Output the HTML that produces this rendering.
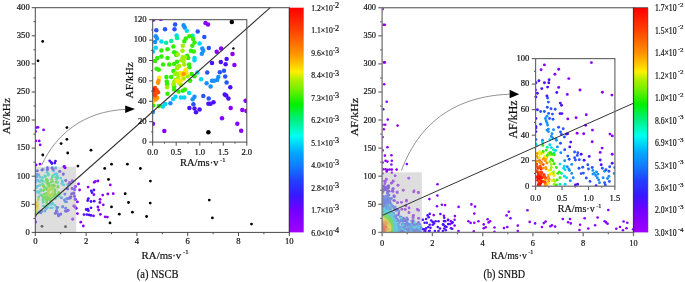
<!DOCTYPE html><html><head><meta charset="utf-8"><title>AF-RA</title><style>html,body{margin:0;padding:0;background:#fff}svg{display:block}</style></head><body><svg width="685" height="282" viewBox="0 0 685 282">
<defs><linearGradient id="rb" x1="0" y1="0" x2="0" y2="1"><stop offset="0" stop-color="#FF0000"/><stop offset="0.1" stop-color="#FF4000"/><stop offset="0.2" stop-color="#FF9000"/><stop offset="0.245" stop-color="#FFC000"/><stop offset="0.285" stop-color="#FFF000"/><stop offset="0.32" stop-color="#B0F000"/><stop offset="0.365" stop-color="#70F000"/><stop offset="0.43" stop-color="#00F000"/><stop offset="0.5" stop-color="#00F080"/><stop offset="0.57" stop-color="#00FFF0"/><stop offset="0.645" stop-color="#00A8FF"/><stop offset="0.7" stop-color="#1080FF"/><stop offset="0.77" stop-color="#2040FF"/><stop offset="0.835" stop-color="#3818FF"/><stop offset="0.9" stop-color="#7000FF"/><stop offset="1" stop-color="#A000FF"/></linearGradient>
<clipPath id="cA"><rect x="35.3" y="7.7" width="254.0" height="224.7"/></clipPath>
<clipPath id="cB"><rect x="382.1" y="7.7" width="251.4" height="224.7"/></clipPath>
<clipPath id="cIA"><rect x="152.7" y="19.7" width="94.1" height="122.4"/></clipPath>
<clipPath id="cIB"><rect x="535.6" y="58.6" width="79.3" height="127.6"/></clipPath>
</defs>
<rect width="685" height="282" fill="#fff"/>
<g clip-path="url(#cA)"><g fill="#1890FF"><circle cx="37.2" cy="170.8" r="1.4"/><circle cx="42.0" cy="170.2" r="1.4"/><circle cx="47.4" cy="167.7" r="1.4"/><circle cx="59.6" cy="171.5" r="1.4"/><circle cx="63.2" cy="174.5" r="1.4"/><circle cx="65.6" cy="180.6" r="1.4"/><circle cx="37.0" cy="174.1" r="1.4"/><circle cx="37.6" cy="175.3" r="1.4"/><circle cx="36.6" cy="177.3" r="1.4"/><circle cx="37.0" cy="180.5" r="1.4"/><circle cx="35.4" cy="182.5" r="1.4"/><circle cx="64.7" cy="194.1" r="1.4"/><circle cx="61.4" cy="197.8" r="1.4"/><circle cx="38.6" cy="212.5" r="1.4"/><circle cx="46.3" cy="208.6" r="1.4"/><circle cx="42.1" cy="211.4" r="1.4"/><circle cx="44.9" cy="211.0" r="1.4"/><circle cx="57.9" cy="207.4" r="1.4"/><circle cx="56.9" cy="208.8" r="1.4"/><circle cx="57.2" cy="211.6" r="1.4"/><circle cx="55.1" cy="213.6" r="1.4"/><circle cx="35.4" cy="186.1" r="1.4"/><circle cx="67.7" cy="184.5" r="1.4"/><circle cx="39.1" cy="211.8" r="1.4"/><circle cx="43.2" cy="169.2" r="1.4"/><circle cx="55.8" cy="168.0" r="1.4"/><circle cx="38.7" cy="174.8" r="1.4"/><circle cx="61.4" cy="197.8" r="1.4"/><circle cx="66.5" cy="198.6" r="1.4"/><circle cx="69.4" cy="197.8" r="1.4"/><circle cx="70.9" cy="197.1" r="1.4"/><circle cx="65.0" cy="201.5" r="1.4"/></g><g fill="#00D8F0"><circle cx="47.1" cy="170.2" r="1.4"/><circle cx="52.0" cy="168.0" r="1.4"/><circle cx="52.6" cy="169.2" r="1.4"/><circle cx="53.7" cy="171.1" r="1.4"/><circle cx="40.0" cy="177.0" r="1.4"/><circle cx="42.5" cy="177.7" r="1.4"/><circle cx="40.0" cy="181.9" r="1.4"/><circle cx="55.1" cy="174.1" r="1.4"/><circle cx="56.9" cy="173.8" r="1.4"/><circle cx="57.1" cy="175.7" r="1.4"/><circle cx="60.6" cy="178.1" r="1.4"/><circle cx="62.1" cy="180.9" r="1.4"/><circle cx="62.6" cy="182.1" r="1.4"/><circle cx="61.8" cy="183.7" r="1.4"/><circle cx="37.8" cy="186.1" r="1.4"/><circle cx="36.6" cy="187.7" r="1.4"/><circle cx="37.4" cy="192.0" r="1.4"/><circle cx="38.6" cy="192.5" r="1.4"/><circle cx="57.9" cy="196.1" r="1.4"/><circle cx="38.7" cy="197.0" r="1.4"/><circle cx="52.8" cy="203.4" r="1.4"/><circle cx="49.2" cy="204.6" r="1.4"/><circle cx="51.6" cy="204.2" r="1.4"/><circle cx="55.0" cy="205.4" r="1.4"/><circle cx="47.6" cy="207.4" r="1.4"/><circle cx="50.6" cy="207.8" r="1.4"/><circle cx="52.4" cy="207.8" r="1.4"/><circle cx="58.9" cy="196.2" r="1.4"/><circle cx="37.8" cy="191.7" r="1.4"/><circle cx="38.3" cy="180.5" r="1.4"/><circle cx="63.8" cy="185.0" r="1.4"/><circle cx="41.5" cy="180.1" r="1.4"/><circle cx="53.3" cy="167.9" r="1.4"/><circle cx="47.1" cy="172.3" r="1.4"/><circle cx="51.1" cy="203.8" r="1.4"/></g><g fill="#2855FF"><circle cx="63.8" cy="166.8" r="1.4"/><circle cx="65.1" cy="167.6" r="1.4"/><circle cx="72.2" cy="180.8" r="1.4"/><circle cx="69.9" cy="182.7" r="1.4"/><circle cx="67.3" cy="188.9" r="1.4"/><circle cx="68.5" cy="198.6" r="1.4"/><circle cx="67.3" cy="198.6" r="1.4"/><circle cx="64.4" cy="200.0" r="1.4"/><circle cx="66.5" cy="201.8" r="1.4"/><circle cx="40.8" cy="212.9" r="1.4"/><circle cx="62.6" cy="207.0" r="1.4"/><circle cx="65.5" cy="208.3" r="1.4"/><circle cx="65.4" cy="211.2" r="1.4"/><circle cx="57.9" cy="213.8" r="1.4"/><circle cx="60.6" cy="214.4" r="1.4"/><circle cx="58.7" cy="216.0" r="1.4"/><circle cx="72.3" cy="193.7" r="1.4"/><circle cx="73.8" cy="193.0" r="1.4"/><circle cx="65.0" cy="194.1" r="1.4"/><circle cx="57.0" cy="207.3" r="1.4"/><circle cx="62.8" cy="206.6" r="1.4"/><circle cx="65.8" cy="208.1" r="1.4"/></g><g fill="#00F0A0"><circle cx="45.3" cy="176.7" r="1.4"/><circle cx="48.2" cy="173.7" r="1.4"/><circle cx="48.4" cy="175.1" r="1.4"/><circle cx="43.3" cy="181.3" r="1.4"/><circle cx="52.4" cy="176.9" r="1.4"/><circle cx="53.2" cy="175.3" r="1.4"/><circle cx="57.9" cy="177.5" r="1.4"/><circle cx="56.7" cy="179.3" r="1.4"/><circle cx="57.5" cy="182.5" r="1.4"/><circle cx="40.0" cy="185.3" r="1.4"/><circle cx="40.9" cy="189.7" r="1.4"/><circle cx="59.5" cy="194.1" r="1.4"/><circle cx="42.9" cy="199.0" r="1.4"/><circle cx="43.1" cy="200.6" r="1.4"/><circle cx="55.5" cy="198.6" r="1.4"/><circle cx="43.3" cy="205.8" r="1.4"/><circle cx="43.1" cy="202.2" r="1.4"/><circle cx="55.8" cy="177.2" r="1.4"/><circle cx="41.6" cy="195.1" r="1.4"/><circle cx="45.3" cy="176.2" r="1.4"/><circle cx="42.4" cy="184.1" r="1.4"/><circle cx="40.4" cy="191.2" r="1.4"/><circle cx="44.9" cy="175.8" r="1.4"/><circle cx="40.7" cy="194.9" r="1.4"/><circle cx="42.3" cy="180.6" r="1.4"/><circle cx="57.0" cy="178.8" r="1.4"/><circle cx="45.5" cy="206.4" r="1.4"/></g><g fill="#30F000"><circle cx="46.5" cy="179.7" r="1.4"/><circle cx="46.8" cy="182.9" r="1.4"/><circle cx="48.0" cy="183.5" r="1.4"/><circle cx="51.3" cy="182.1" r="1.4"/><circle cx="51.6" cy="179.3" r="1.4"/><circle cx="55.9" cy="182.1" r="1.4"/><circle cx="48.0" cy="184.5" r="1.4"/><circle cx="57.9" cy="186.1" r="1.4"/><circle cx="57.9" cy="187.3" r="1.4"/><circle cx="43.3" cy="186.1" r="1.4"/><circle cx="44.2" cy="189.7" r="1.4"/><circle cx="46.8" cy="189.3" r="1.4"/><circle cx="51.6" cy="185.7" r="1.4"/><circle cx="53.9" cy="184.9" r="1.4"/><circle cx="54.5" cy="186.1" r="1.4"/><circle cx="55.0" cy="189.7" r="1.4"/><circle cx="55.1" cy="191.2" r="1.4"/><circle cx="46.5" cy="193.2" r="1.4"/><circle cx="53.5" cy="194.4" r="1.4"/><circle cx="54.2" cy="196.1" r="1.4"/><circle cx="56.3" cy="194.9" r="1.4"/><circle cx="42.7" cy="196.6" r="1.4"/><circle cx="45.3" cy="196.6" r="1.4"/><circle cx="46.8" cy="199.4" r="1.4"/><circle cx="48.4" cy="198.6" r="1.4"/><circle cx="50.4" cy="198.6" r="1.4"/><circle cx="50.6" cy="201.0" r="1.4"/><circle cx="46.5" cy="200.6" r="1.4"/><circle cx="46.8" cy="203.4" r="1.4"/><circle cx="46.8" cy="201.8" r="1.4"/><circle cx="48.8" cy="184.1" r="1.4"/><circle cx="52.8" cy="185.7" r="1.4"/><circle cx="47.2" cy="194.9" r="1.4"/><circle cx="48.8" cy="197.4" r="1.4"/><circle cx="47.6" cy="198.2" r="1.4"/><circle cx="49.6" cy="199.8" r="1.4"/><circle cx="52.0" cy="197.4" r="1.4"/><circle cx="49.2" cy="199.0" r="1.4"/><circle cx="44.1" cy="194.1" r="1.4"/><circle cx="48.6" cy="187.6" r="1.4"/><circle cx="46.9" cy="181.3" r="1.4"/><circle cx="43.8" cy="185.7" r="1.4"/><circle cx="52.4" cy="181.4" r="1.4"/><circle cx="49.1" cy="186.2" r="1.4"/><circle cx="48.0" cy="197.3" r="1.4"/><circle cx="43.4" cy="190.6" r="1.4"/><circle cx="44.1" cy="186.9" r="1.4"/><circle cx="52.7" cy="187.6" r="1.4"/><circle cx="55.0" cy="194.0" r="1.4"/><circle cx="53.8" cy="193.6" r="1.4"/><circle cx="46.7" cy="179.4" r="1.4"/><circle cx="47.5" cy="180.4" r="1.4"/><circle cx="54.5" cy="192.3" r="1.4"/><circle cx="44.6" cy="198.5" r="1.4"/><circle cx="49.1" cy="183.7" r="1.4"/><circle cx="58.7" cy="192.3" r="1.4"/><circle cx="46.5" cy="187.9" r="1.4"/><circle cx="58.5" cy="193.6" r="1.4"/></g><g fill="#8800FF"><circle cx="75.2" cy="186.7" r="1.4"/><circle cx="74.7" cy="189.5" r="1.4"/><circle cx="74.4" cy="196.3" r="1.4"/><circle cx="75.2" cy="199.5" r="1.4"/><circle cx="74.2" cy="206.2" r="1.4"/><circle cx="75.0" cy="206.7" r="1.4"/><circle cx="76.2" cy="208.4" r="1.4"/><circle cx="72.7" cy="219.3" r="1.4"/><circle cx="35.4" cy="222.3" r="1.4"/><circle cx="69.4" cy="182.7" r="1.4"/><circle cx="72.3" cy="181.0" r="1.4"/><circle cx="75.3" cy="186.4" r="1.4"/><circle cx="73.8" cy="205.9" r="1.4"/><circle cx="76.0" cy="208.1" r="1.4"/><circle cx="72.8" cy="219.0" r="1.4"/><circle cx="35.8" cy="221.9" r="1.4"/></g><g fill="#4A10FF"><circle cx="72.1" cy="188.4" r="1.4"/><circle cx="71.5" cy="193.9" r="1.4"/><circle cx="73.8" cy="193.1" r="1.4"/><circle cx="70.7" cy="196.6" r="1.4"/><circle cx="70.1" cy="198.2" r="1.4"/><circle cx="35.4" cy="215.8" r="1.4"/><circle cx="68.1" cy="210.4" r="1.4"/><circle cx="66.5" cy="211.2" r="1.4"/><circle cx="37.3" cy="170.8" r="1.4"/><circle cx="42.0" cy="169.9" r="1.4"/><circle cx="47.5" cy="168.1" r="1.4"/><circle cx="47.5" cy="169.6" r="1.4"/><circle cx="51.9" cy="168.1" r="1.4"/><circle cx="53.4" cy="169.6" r="1.4"/><circle cx="59.9" cy="171.4" r="1.4"/><circle cx="63.3" cy="174.0" r="1.4"/><circle cx="65.8" cy="180.5" r="1.4"/><circle cx="72.3" cy="188.6" r="1.4"/><circle cx="74.5" cy="189.3" r="1.4"/><circle cx="67.7" cy="188.9" r="1.4"/><circle cx="56.3" cy="211.0" r="1.4"/><circle cx="55.5" cy="213.2" r="1.4"/><circle cx="58.5" cy="215.4" r="1.4"/><circle cx="60.7" cy="213.9" r="1.4"/><circle cx="65.8" cy="211.0" r="1.4"/><circle cx="68.0" cy="210.2" r="1.4"/><circle cx="73.8" cy="193.5" r="1.4"/><circle cx="74.5" cy="196.4" r="1.4"/><circle cx="75.3" cy="199.3" r="1.4"/></g><g fill="#A0F000"><circle cx="48.4" cy="188.1" r="1.4"/><circle cx="50.8" cy="187.3" r="1.4"/><circle cx="52.4" cy="189.7" r="1.4"/><circle cx="48.8" cy="190.9" r="1.4"/><circle cx="48.0" cy="194.5" r="1.4"/><circle cx="49.2" cy="195.5" r="1.4"/><circle cx="50.8" cy="194.4" r="1.4"/><circle cx="52.0" cy="194.9" r="1.4"/><circle cx="53.2" cy="192.5" r="1.4"/><circle cx="38.4" cy="198.7" r="1.4"/><circle cx="38.2" cy="199.8" r="1.4"/><circle cx="35.6" cy="212.2" r="1.4"/><circle cx="52.0" cy="187.7" r="1.4"/><circle cx="49.6" cy="190.5" r="1.4"/><circle cx="48.4" cy="191.7" r="1.4"/><circle cx="49.6" cy="194.5" r="1.4"/><circle cx="52.8" cy="193.3" r="1.4"/><circle cx="50.8" cy="195.7" r="1.4"/><circle cx="50.7" cy="189.7" r="1.4"/><circle cx="50.1" cy="196.8" r="1.4"/><circle cx="36.1" cy="211.2" r="1.4"/></g><g fill="#FF9800"><circle cx="36.6" cy="202.6" r="1.4"/><circle cx="35.4" cy="203.4" r="1.4"/><circle cx="36.0" cy="205.0" r="1.4"/><circle cx="36.6" cy="206.6" r="1.4"/><circle cx="37.0" cy="205.4" r="1.4"/><circle cx="35.4" cy="205.8" r="1.4"/><circle cx="36.2" cy="207.8" r="1.4"/></g><g fill="#FFE800"><circle cx="37.4" cy="203.8" r="1.4"/><circle cx="38.2" cy="205.0" r="1.4"/><circle cx="37.8" cy="208.2" r="1.4"/><circle cx="37.0" cy="209.0" r="1.4"/><circle cx="35.4" cy="210.2" r="1.4"/></g><g fill="#000000"><circle cx="42.0" cy="226.3" r="1.4"/><circle cx="65.5" cy="226.7" r="1.4"/></g></g>
<rect x="35.3" y="166.7" width="40.9" height="65.7" fill="#c0c0c0" fill-opacity="0.52"/>
<g clip-path="url(#cA)"><g fill="#000000"><circle cx="42.8" cy="155.0" r="1.4"/><circle cx="77.9" cy="166.1" r="1.4"/><circle cx="104.7" cy="168.4" r="1.4"/><circle cx="111.5" cy="164.2" r="1.4"/><circle cx="127.4" cy="164.2" r="1.4"/><circle cx="108.5" cy="179.4" r="1.4"/><circle cx="125.2" cy="193.7" r="1.4"/><circle cx="128.5" cy="202.5" r="1.4"/><circle cx="111.5" cy="206.9" r="1.4"/><circle cx="119.3" cy="214.2" r="1.4"/><circle cx="110.0" cy="222.9" r="1.4"/><circle cx="66.9" cy="127.6" r="1.4"/><circle cx="66.9" cy="139.3" r="1.4"/><circle cx="61.1" cy="143.6" r="1.4"/><circle cx="67.7" cy="153.0" r="1.4"/><circle cx="91.0" cy="150.2" r="1.4"/><circle cx="42.7" cy="41.4" r="1.4"/><circle cx="38.0" cy="60.8" r="1.4"/><circle cx="140.4" cy="168.5" r="1.4"/><circle cx="150.4" cy="181.1" r="1.4"/><circle cx="150.2" cy="203.1" r="1.4"/><circle cx="132.4" cy="212.2" r="1.4"/><circle cx="146.6" cy="216.5" r="1.4"/><circle cx="209.3" cy="200.1" r="1.4"/><circle cx="212.4" cy="217.9" r="1.4"/><circle cx="251.5" cy="224.1" r="1.4"/></g><g fill="#8800FF"><circle cx="36.1" cy="164.9" r="1.4"/><circle cx="39.9" cy="164.1" r="1.4"/><circle cx="64.3" cy="166.4" r="1.4"/><circle cx="65.0" cy="167.8" r="1.4"/><circle cx="78.5" cy="183.9" r="1.4"/><circle cx="79.6" cy="190.0" r="1.4"/><circle cx="88.1" cy="187.1" r="1.4"/><circle cx="94.2" cy="182.3" r="1.4"/><circle cx="95.4" cy="181.3" r="1.4"/><circle cx="97.9" cy="181.0" r="1.4"/><circle cx="110.3" cy="184.9" r="1.4"/><circle cx="93.9" cy="194.7" r="1.4"/><circle cx="102.7" cy="195.1" r="1.4"/><circle cx="107.8" cy="194.0" r="1.4"/><circle cx="113.2" cy="193.7" r="1.4"/><circle cx="77.4" cy="201.9" r="1.4"/><circle cx="100.1" cy="199.3" r="1.4"/><circle cx="99.8" cy="202.5" r="1.4"/><circle cx="103.3" cy="204.8" r="1.4"/><circle cx="97.9" cy="207.0" r="1.4"/><circle cx="98.6" cy="210.0" r="1.4"/><circle cx="77.4" cy="213.6" r="1.4"/><circle cx="93.5" cy="215.8" r="1.4"/><circle cx="100.4" cy="214.3" r="1.4"/><circle cx="105.2" cy="216.8" r="1.4"/><circle cx="107.4" cy="217.1" r="1.4"/><circle cx="80.8" cy="222.2" r="1.4"/><circle cx="83.3" cy="226.0" r="1.4"/><circle cx="38.0" cy="127.3" r="1.4"/><circle cx="36.1" cy="127.6" r="1.4"/><circle cx="35.5" cy="131.4" r="1.4"/><circle cx="43.6" cy="129.9" r="1.4"/><circle cx="35.8" cy="140.9" r="1.4"/><circle cx="39.2" cy="140.9" r="1.4"/><circle cx="40.2" cy="144.8" r="1.4"/></g><g fill="#4A10FF"><circle cx="49.7" cy="160.8" r="1.4"/><circle cx="51.2" cy="162.3" r="1.4"/><circle cx="51.9" cy="163.5" r="1.4"/><circle cx="54.8" cy="163.0" r="1.4"/><circle cx="55.5" cy="161.1" r="1.4"/><circle cx="91.3" cy="190.8" r="1.4"/><circle cx="93.9" cy="190.0" r="1.4"/><circle cx="92.0" cy="192.7" r="1.4"/><circle cx="88.4" cy="198.6" r="1.4"/><circle cx="87.7" cy="200.5" r="1.4"/><circle cx="91.0" cy="201.5" r="1.4"/><circle cx="94.2" cy="201.2" r="1.4"/><circle cx="91.0" cy="207.8" r="1.4"/><circle cx="86.2" cy="209.5" r="1.4"/><circle cx="87.7" cy="209.2" r="1.4"/><circle cx="88.4" cy="210.7" r="1.4"/><circle cx="84.0" cy="214.6" r="1.4"/><circle cx="86.9" cy="214.6" r="1.4"/><circle cx="89.1" cy="214.9" r="1.4"/><circle cx="91.0" cy="215.4" r="1.4"/></g></g>
<g clip-path="url(#cB)"><g fill="#FF1000"><circle cx="383.2" cy="228.1" r="1.3"/><circle cx="383.1" cy="229.7" r="1.3"/><circle cx="383.8" cy="230.8" r="1.3"/><circle cx="384.3" cy="228.2" r="1.3"/><circle cx="383.4" cy="232.0" r="1.3"/><circle cx="383.4" cy="229.1" r="1.3"/><circle cx="383.6" cy="231.5" r="1.3"/><circle cx="384.8" cy="230.3" r="1.3"/><circle cx="385.6" cy="230.3" r="1.3"/><circle cx="384.2" cy="231.9" r="1.3"/><circle cx="383.2" cy="228.7" r="1.3"/><circle cx="384.3" cy="227.8" r="1.3"/><circle cx="384.5" cy="231.1" r="1.3"/><circle cx="383.5" cy="226.9" r="1.3"/><circle cx="384.9" cy="228.9" r="1.3"/><circle cx="383.0" cy="226.1" r="1.3"/><circle cx="383.7" cy="227.4" r="1.3"/><circle cx="382.6" cy="228.4" r="1.3"/><circle cx="384.0" cy="229.0" r="1.3"/><circle cx="385.0" cy="226.4" r="1.3"/><circle cx="386.1" cy="227.4" r="1.3"/><circle cx="384.7" cy="224.8" r="1.3"/><circle cx="383.3" cy="224.5" r="1.3"/><circle cx="385.4" cy="228.4" r="1.3"/><circle cx="384.3" cy="230.0" r="1.3"/><circle cx="388.1" cy="231.7" r="1.3"/><circle cx="384.3" cy="224.2" r="1.3"/><circle cx="388.0" cy="232.0" r="1.3"/><circle cx="387.4" cy="228.3" r="1.3"/><circle cx="385.5" cy="225.1" r="1.3"/><circle cx="385.9" cy="225.6" r="1.3"/><circle cx="383.4" cy="223.8" r="1.3"/><circle cx="387.9" cy="230.6" r="1.3"/><circle cx="383.7" cy="224.0" r="1.3"/><circle cx="383.5" cy="224.0" r="1.3"/><circle cx="383.5" cy="223.9" r="1.3"/><circle cx="385.0" cy="224.8" r="1.3"/><circle cx="385.3" cy="225.3" r="1.3"/><circle cx="386.8" cy="227.5" r="1.3"/><circle cx="385.3" cy="225.3" r="1.3"/><circle cx="387.6" cy="230.0" r="1.3"/><circle cx="387.7" cy="230.5" r="1.3"/><circle cx="386.4" cy="226.9" r="1.3"/><circle cx="384.3" cy="224.6" r="1.3"/><circle cx="382.2" cy="224.0" r="1.3"/><circle cx="383.1" cy="224.1" r="1.3"/><circle cx="385.0" cy="225.3" r="1.3"/><circle cx="382.4" cy="224.2" r="1.3"/><circle cx="386.4" cy="227.3" r="1.3"/><circle cx="385.8" cy="226.4" r="1.3"/><circle cx="385.6" cy="226.2" r="1.3"/><circle cx="386.0" cy="226.8" r="1.3"/><circle cx="387.5" cy="232.2" r="1.3"/><circle cx="385.8" cy="226.5" r="1.3"/><circle cx="387.1" cy="229.4" r="1.3"/><circle cx="386.7" cy="228.2" r="1.3"/><circle cx="384.2" cy="225.0" r="1.3"/><circle cx="383.2" cy="224.6" r="1.3"/><circle cx="385.9" cy="226.9" r="1.3"/><circle cx="387.3" cy="231.3" r="1.3"/><circle cx="383.1" cy="224.8" r="1.3"/><circle cx="386.3" cy="227.8" r="1.3"/><circle cx="385.4" cy="226.4" r="1.3"/><circle cx="382.3" cy="224.8" r="1.3"/><circle cx="382.7" cy="224.9" r="1.3"/><circle cx="382.4" cy="224.9" r="1.3"/><circle cx="386.4" cy="228.6" r="1.3"/><circle cx="383.8" cy="225.4" r="1.3"/><circle cx="387.1" cy="231.9" r="1.3"/><circle cx="384.0" cy="225.6" r="1.3"/><circle cx="387.0" cy="232.0" r="1.3"/><circle cx="384.8" cy="226.2" r="1.3"/><circle cx="385.0" cy="226.5" r="1.3"/><circle cx="385.7" cy="227.5" r="1.3"/><circle cx="385.7" cy="227.6" r="1.3"/><circle cx="385.7" cy="227.6" r="1.3"/><circle cx="385.0" cy="226.8" r="1.3"/><circle cx="384.2" cy="226.0" r="1.3"/><circle cx="386.7" cy="230.7" r="1.3"/><circle cx="386.7" cy="230.5" r="1.3"/><circle cx="384.0" cy="225.9" r="1.3"/><circle cx="386.0" cy="228.4" r="1.3"/><circle cx="384.2" cy="226.1" r="1.3"/><circle cx="386.6" cy="230.7" r="1.3"/><circle cx="385.3" cy="227.4" r="1.3"/><circle cx="383.7" cy="226.0" r="1.3"/><circle cx="386.7" cy="232.2" r="1.3"/><circle cx="386.7" cy="232.3" r="1.3"/><circle cx="383.9" cy="226.2" r="1.3"/><circle cx="386.0" cy="229.2" r="1.3"/><circle cx="382.3" cy="225.8" r="1.3"/><circle cx="386.0" cy="229.3" r="1.3"/><circle cx="386.5" cy="232.2" r="1.3"/><circle cx="383.9" cy="226.5" r="1.3"/><circle cx="386.3" cy="230.8" r="1.3"/><circle cx="386.2" cy="230.6" r="1.3"/><circle cx="386.1" cy="229.9" r="1.3"/><circle cx="382.3" cy="226.0" r="1.3"/><circle cx="384.3" cy="227.0" r="1.3"/><circle cx="384.3" cy="227.1" r="1.3"/><circle cx="385.6" cy="229.0" r="1.3"/><circle cx="383.6" cy="226.7" r="1.3"/><circle cx="382.5" cy="226.3" r="1.3"/><circle cx="386.0" cy="230.8" r="1.3"/><circle cx="384.2" cy="227.3" r="1.3"/><circle cx="386.1" cy="231.5" r="1.3"/><circle cx="385.1" cy="228.7" r="1.3"/><circle cx="383.2" cy="226.9" r="1.3"/><circle cx="385.9" cy="231.1" r="1.3"/><circle cx="385.6" cy="230.1" r="1.3"/><circle cx="385.8" cy="231.1" r="1.3"/><circle cx="383.9" cy="227.5" r="1.3"/><circle cx="385.6" cy="230.6" r="1.3"/><circle cx="383.9" cy="227.6" r="1.3"/><circle cx="382.6" cy="227.2" r="1.3"/><circle cx="385.5" cy="230.7" r="1.3"/><circle cx="385.5" cy="230.8" r="1.3"/><circle cx="385.1" cy="230.6" r="1.3"/><circle cx="385.3" cy="231.5" r="1.3"/><circle cx="384.6" cy="229.4" r="1.3"/><circle cx="385.0" cy="230.4" r="1.3"/><circle cx="384.0" cy="228.6" r="1.3"/><circle cx="382.4" cy="227.7" r="1.3"/><circle cx="384.0" cy="228.7" r="1.3"/><circle cx="385.2" cy="232.1" r="1.3"/><circle cx="382.7" cy="227.9" r="1.3"/><circle cx="384.3" cy="229.4" r="1.3"/><circle cx="383.9" cy="228.9" r="1.3"/><circle cx="382.1" cy="228.3" r="1.3"/><circle cx="384.7" cy="231.3" r="1.3"/><circle cx="383.5" cy="229.4" r="1.3"/><circle cx="384.5" cy="231.5" r="1.3"/><circle cx="382.2" cy="228.9" r="1.3"/><circle cx="383.5" cy="229.5" r="1.3"/><circle cx="384.5" cy="232.2" r="1.3"/><circle cx="384.4" cy="232.1" r="1.3"/><circle cx="384.3" cy="232.0" r="1.3"/><circle cx="382.3" cy="229.2" r="1.3"/><circle cx="382.3" cy="229.3" r="1.3"/><circle cx="382.2" cy="229.3" r="1.3"/><circle cx="384.0" cy="231.8" r="1.3"/><circle cx="384.1" cy="232.2" r="1.3"/><circle cx="382.1" cy="229.5" r="1.3"/><circle cx="383.5" cy="230.5" r="1.3"/><circle cx="383.5" cy="230.5" r="1.3"/><circle cx="383.5" cy="230.6" r="1.3"/><circle cx="383.4" cy="230.7" r="1.3"/><circle cx="383.1" cy="230.3" r="1.3"/><circle cx="383.3" cy="230.8" r="1.3"/><circle cx="382.9" cy="230.4" r="1.3"/><circle cx="383.5" cy="231.5" r="1.3"/><circle cx="382.9" cy="231.0" r="1.3"/><circle cx="383.0" cy="231.1" r="1.3"/><circle cx="382.4" cy="231.7" r="1.3"/><circle cx="382.3" cy="231.8" r="1.3"/></g><g fill="#FF4800"><circle cx="386.1" cy="230.6" r="1.3"/><circle cx="386.9" cy="228.8" r="1.3"/><circle cx="386.5" cy="230.3" r="1.3"/><circle cx="385.9" cy="228.5" r="1.3"/><circle cx="384.3" cy="227.0" r="1.3"/><circle cx="384.8" cy="226.2" r="1.3"/><circle cx="384.0" cy="224.3" r="1.3"/><circle cx="382.6" cy="225.5" r="1.3"/><circle cx="385.0" cy="224.4" r="1.3"/><circle cx="384.7" cy="227.2" r="1.3"/><circle cx="386.2" cy="227.9" r="1.3"/><circle cx="383.6" cy="226.2" r="1.3"/><circle cx="386.8" cy="231.1" r="1.3"/><circle cx="386.2" cy="227.9" r="1.3"/><circle cx="382.9" cy="223.8" r="1.3"/><circle cx="382.6" cy="222.7" r="1.3"/><circle cx="386.6" cy="232.2" r="1.3"/><circle cx="384.0" cy="221.2" r="1.3"/><circle cx="384.7" cy="221.8" r="1.3"/><circle cx="386.8" cy="228.7" r="1.3"/><circle cx="384.3" cy="223.5" r="1.3"/><circle cx="385.7" cy="222.9" r="1.3"/><circle cx="385.7" cy="230.3" r="1.3"/><circle cx="383.7" cy="230.3" r="1.3"/><circle cx="384.6" cy="220.2" r="1.3"/><circle cx="387.6" cy="222.7" r="1.3"/><circle cx="382.3" cy="219.8" r="1.3"/><circle cx="389.8" cy="227.3" r="1.3"/><circle cx="390.1" cy="228.6" r="1.3"/><circle cx="382.9" cy="220.0" r="1.3"/><circle cx="389.7" cy="227.4" r="1.3"/><circle cx="388.6" cy="224.7" r="1.3"/><circle cx="382.5" cy="220.1" r="1.3"/><circle cx="388.7" cy="224.9" r="1.3"/><circle cx="388.2" cy="224.2" r="1.3"/><circle cx="387.2" cy="222.9" r="1.3"/><circle cx="383.9" cy="220.6" r="1.3"/><circle cx="387.6" cy="223.4" r="1.3"/><circle cx="389.3" cy="226.8" r="1.3"/><circle cx="389.9" cy="229.4" r="1.3"/><circle cx="382.9" cy="220.5" r="1.3"/><circle cx="387.2" cy="223.1" r="1.3"/><circle cx="383.9" cy="220.8" r="1.3"/><circle cx="387.4" cy="223.5" r="1.3"/><circle cx="386.8" cy="222.8" r="1.3"/><circle cx="390.1" cy="231.7" r="1.3"/><circle cx="385.6" cy="221.8" r="1.3"/><circle cx="390.0" cy="232.0" r="1.3"/><circle cx="387.0" cy="223.3" r="1.3"/><circle cx="385.3" cy="221.6" r="1.3"/><circle cx="386.6" cy="222.8" r="1.3"/><circle cx="382.8" cy="220.8" r="1.3"/><circle cx="389.9" cy="231.5" r="1.3"/><circle cx="383.3" cy="220.9" r="1.3"/><circle cx="385.1" cy="221.7" r="1.3"/><circle cx="389.4" cy="228.5" r="1.3"/><circle cx="388.7" cy="226.7" r="1.3"/><circle cx="387.1" cy="223.8" r="1.3"/><circle cx="383.1" cy="221.2" r="1.3"/><circle cx="383.5" cy="221.3" r="1.3"/><circle cx="387.5" cy="224.4" r="1.3"/><circle cx="388.2" cy="225.8" r="1.3"/><circle cx="386.5" cy="223.3" r="1.3"/><circle cx="385.3" cy="222.3" r="1.3"/><circle cx="387.1" cy="224.1" r="1.3"/><circle cx="383.3" cy="221.4" r="1.3"/><circle cx="388.1" cy="225.9" r="1.3"/><circle cx="389.0" cy="228.4" r="1.3"/><circle cx="389.0" cy="228.4" r="1.3"/><circle cx="387.9" cy="225.6" r="1.3"/><circle cx="387.1" cy="224.4" r="1.3"/><circle cx="386.2" cy="223.5" r="1.3"/><circle cx="386.8" cy="224.2" r="1.3"/><circle cx="383.4" cy="221.8" r="1.3"/><circle cx="385.5" cy="223.0" r="1.3"/><circle cx="384.4" cy="222.4" r="1.3"/><circle cx="389.1" cy="231.4" r="1.3"/><circle cx="387.6" cy="225.9" r="1.3"/><circle cx="389.0" cy="230.2" r="1.3"/><circle cx="384.8" cy="222.8" r="1.3"/><circle cx="383.3" cy="222.1" r="1.3"/><circle cx="387.5" cy="225.8" r="1.3"/><circle cx="385.6" cy="223.4" r="1.3"/><circle cx="388.4" cy="228.3" r="1.3"/><circle cx="385.3" cy="223.3" r="1.3"/><circle cx="388.1" cy="227.4" r="1.3"/><circle cx="386.3" cy="224.4" r="1.3"/><circle cx="386.5" cy="224.8" r="1.3"/><circle cx="382.2" cy="222.4" r="1.3"/><circle cx="382.2" cy="222.4" r="1.3"/><circle cx="388.0" cy="227.8" r="1.3"/><circle cx="388.7" cy="231.2" r="1.3"/><circle cx="388.1" cy="228.0" r="1.3"/><circle cx="387.1" cy="225.9" r="1.3"/><circle cx="388.7" cy="232.1" r="1.3"/><circle cx="385.6" cy="224.3" r="1.3"/><circle cx="386.4" cy="225.2" r="1.3"/><circle cx="385.0" cy="223.8" r="1.3"/><circle cx="387.9" cy="228.2" r="1.3"/><circle cx="387.9" cy="228.4" r="1.3"/><circle cx="386.5" cy="225.5" r="1.3"/><circle cx="388.5" cy="232.2" r="1.3"/><circle cx="386.1" cy="225.1" r="1.3"/><circle cx="386.8" cy="226.2" r="1.3"/><circle cx="384.2" cy="223.5" r="1.3"/><circle cx="384.2" cy="223.6" r="1.3"/><circle cx="387.4" cy="227.7" r="1.3"/><circle cx="387.6" cy="228.2" r="1.3"/><circle cx="384.7" cy="224.1" r="1.3"/><circle cx="386.2" cy="225.5" r="1.3"/><circle cx="385.2" cy="224.5" r="1.3"/></g><g fill="#A0F000"><circle cx="389.2" cy="225.2" r="1.3"/><circle cx="384.9" cy="217.9" r="1.3"/><circle cx="390.7" cy="229.7" r="1.3"/><circle cx="388.8" cy="221.6" r="1.3"/><circle cx="390.5" cy="227.1" r="1.3"/><circle cx="388.2" cy="218.0" r="1.3"/><circle cx="389.6" cy="222.8" r="1.3"/><circle cx="389.6" cy="224.2" r="1.3"/><circle cx="390.6" cy="226.1" r="1.3"/><circle cx="391.3" cy="230.3" r="1.3"/><circle cx="390.9" cy="231.6" r="1.3"/><circle cx="388.9" cy="218.7" r="1.3"/><circle cx="385.5" cy="216.1" r="1.3"/><circle cx="393.3" cy="228.7" r="1.3"/><circle cx="388.2" cy="218.0" r="1.3"/><circle cx="393.5" cy="232.0" r="1.3"/><circle cx="384.7" cy="215.9" r="1.3"/><circle cx="387.5" cy="217.6" r="1.3"/><circle cx="392.3" cy="225.4" r="1.3"/><circle cx="393.1" cy="228.8" r="1.3"/><circle cx="392.2" cy="225.5" r="1.3"/><circle cx="389.2" cy="219.8" r="1.3"/><circle cx="392.9" cy="229.6" r="1.3"/><circle cx="388.2" cy="218.8" r="1.3"/><circle cx="382.3" cy="216.2" r="1.3"/><circle cx="392.5" cy="227.8" r="1.3"/><circle cx="393.0" cy="232.1" r="1.3"/><circle cx="385.6" cy="217.1" r="1.3"/><circle cx="386.1" cy="217.4" r="1.3"/><circle cx="383.0" cy="216.4" r="1.3"/><circle cx="391.3" cy="224.1" r="1.3"/></g><g fill="#00F0A0"><circle cx="389.3" cy="217.7" r="1.3"/><circle cx="387.6" cy="215.3" r="1.3"/><circle cx="382.5" cy="214.5" r="1.3"/><circle cx="390.6" cy="216.4" r="1.3"/><circle cx="394.4" cy="226.7" r="1.3"/><circle cx="393.7" cy="231.6" r="1.3"/><circle cx="390.9" cy="217.7" r="1.3"/><circle cx="394.6" cy="223.3" r="1.3"/><circle cx="383.5" cy="211.9" r="1.3"/><circle cx="389.4" cy="215.0" r="1.3"/><circle cx="390.2" cy="216.0" r="1.3"/><circle cx="387.3" cy="213.6" r="1.3"/><circle cx="395.2" cy="226.9" r="1.3"/><circle cx="392.9" cy="220.1" r="1.3"/><circle cx="394.1" cy="222.8" r="1.3"/><circle cx="384.5" cy="212.6" r="1.3"/><circle cx="389.9" cy="216.0" r="1.3"/><circle cx="390.5" cy="216.7" r="1.3"/><circle cx="389.2" cy="215.6" r="1.3"/><circle cx="390.3" cy="216.7" r="1.3"/><circle cx="386.0" cy="213.7" r="1.3"/><circle cx="383.1" cy="212.9" r="1.3"/><circle cx="395.2" cy="231.5" r="1.3"/><circle cx="382.8" cy="213.0" r="1.3"/><circle cx="383.3" cy="213.0" r="1.3"/><circle cx="394.9" cy="228.3" r="1.3"/><circle cx="383.3" cy="213.1" r="1.3"/><circle cx="395.1" cy="231.5" r="1.3"/><circle cx="388.9" cy="216.0" r="1.3"/><circle cx="387.9" cy="215.2" r="1.3"/><circle cx="394.0" cy="225.0" r="1.3"/></g><g fill="#FF9800"><circle cx="384.5" cy="222.3" r="1.3"/><circle cx="384.3" cy="222.1" r="1.3"/><circle cx="382.3" cy="221.4" r="1.3"/><circle cx="388.3" cy="229.3" r="1.3"/><circle cx="382.6" cy="221.5" r="1.3"/><circle cx="384.0" cy="221.7" r="1.3"/><circle cx="388.3" cy="230.4" r="1.3"/><circle cx="388.3" cy="227.5" r="1.3"/><circle cx="386.9" cy="224.2" r="1.3"/><circle cx="385.9" cy="224.4" r="1.3"/><circle cx="383.0" cy="218.0" r="1.3"/><circle cx="382.6" cy="219.3" r="1.3"/><circle cx="385.7" cy="220.6" r="1.3"/><circle cx="387.1" cy="220.2" r="1.3"/><circle cx="387.5" cy="222.2" r="1.3"/><circle cx="386.8" cy="221.3" r="1.3"/><circle cx="383.3" cy="220.0" r="1.3"/><circle cx="386.1" cy="220.0" r="1.3"/><circle cx="387.1" cy="224.8" r="1.3"/><circle cx="388.2" cy="228.4" r="1.3"/><circle cx="386.8" cy="229.6" r="1.3"/><circle cx="387.5" cy="231.6" r="1.3"/><circle cx="388.5" cy="229.3" r="1.3"/><circle cx="386.8" cy="231.9" r="1.3"/><circle cx="390.4" cy="224.4" r="1.3"/><circle cx="383.4" cy="217.8" r="1.3"/><circle cx="390.8" cy="225.5" r="1.3"/><circle cx="387.9" cy="220.5" r="1.3"/><circle cx="389.9" cy="223.5" r="1.3"/><circle cx="389.9" cy="223.5" r="1.3"/><circle cx="390.1" cy="224.1" r="1.3"/><circle cx="391.8" cy="231.2" r="1.3"/><circle cx="391.8" cy="231.7" r="1.3"/><circle cx="391.8" cy="231.2" r="1.3"/><circle cx="385.5" cy="219.0" r="1.3"/><circle cx="391.2" cy="228.3" r="1.3"/><circle cx="391.4" cy="230.1" r="1.3"/><circle cx="384.5" cy="218.8" r="1.3"/><circle cx="391.3" cy="229.7" r="1.3"/><circle cx="390.4" cy="226.4" r="1.3"/><circle cx="389.2" cy="223.7" r="1.3"/><circle cx="390.0" cy="225.3" r="1.3"/><circle cx="388.1" cy="222.2" r="1.3"/><circle cx="384.1" cy="219.1" r="1.3"/><circle cx="391.0" cy="229.9" r="1.3"/><circle cx="386.0" cy="220.4" r="1.3"/><circle cx="388.9" cy="223.7" r="1.3"/><circle cx="389.1" cy="224.1" r="1.3"/><circle cx="391.0" cy="231.5" r="1.3"/><circle cx="389.7" cy="225.7" r="1.3"/><circle cx="390.5" cy="228.7" r="1.3"/><circle cx="384.9" cy="220.0" r="1.3"/><circle cx="384.6" cy="219.9" r="1.3"/><circle cx="390.7" cy="229.5" r="1.3"/><circle cx="388.4" cy="223.3" r="1.3"/><circle cx="390.7" cy="229.6" r="1.3"/><circle cx="385.3" cy="220.4" r="1.3"/><circle cx="390.5" cy="229.4" r="1.3"/><circle cx="390.7" cy="231.1" r="1.3"/><circle cx="390.7" cy="231.3" r="1.3"/><circle cx="382.9" cy="219.7" r="1.3"/><circle cx="390.4" cy="229.1" r="1.3"/></g><g fill="#FFE800"><circle cx="383.9" cy="219.8" r="1.3"/><circle cx="388.4" cy="225.4" r="1.3"/><circle cx="388.9" cy="227.2" r="1.3"/><circle cx="384.0" cy="217.3" r="1.3"/><circle cx="385.7" cy="217.7" r="1.3"/><circle cx="386.4" cy="219.3" r="1.3"/><circle cx="384.0" cy="218.4" r="1.3"/><circle cx="387.5" cy="219.7" r="1.3"/><circle cx="389.6" cy="226.7" r="1.3"/><circle cx="390.9" cy="227.7" r="1.3"/><circle cx="389.9" cy="230.0" r="1.3"/><circle cx="388.2" cy="231.2" r="1.3"/><circle cx="389.5" cy="220.9" r="1.3"/><circle cx="385.3" cy="217.3" r="1.3"/><circle cx="385.5" cy="217.5" r="1.3"/><circle cx="385.6" cy="217.6" r="1.3"/><circle cx="384.0" cy="217.0" r="1.3"/><circle cx="384.3" cy="217.2" r="1.3"/><circle cx="385.8" cy="217.8" r="1.3"/><circle cx="387.9" cy="219.6" r="1.3"/><circle cx="390.7" cy="223.9" r="1.3"/><circle cx="388.4" cy="220.3" r="1.3"/><circle cx="385.0" cy="217.8" r="1.3"/><circle cx="382.4" cy="217.2" r="1.3"/><circle cx="391.0" cy="225.0" r="1.3"/><circle cx="387.7" cy="219.9" r="1.3"/><circle cx="389.5" cy="222.2" r="1.3"/><circle cx="390.1" cy="223.3" r="1.3"/><circle cx="383.5" cy="217.7" r="1.3"/><circle cx="384.8" cy="218.2" r="1.3"/></g><g fill="#1890FF"><circle cx="390.2" cy="211.2" r="1.3"/><circle cx="387.5" cy="201.6" r="1.3"/><circle cx="386.8" cy="202.6" r="1.3"/><circle cx="387.1" cy="203.5" r="1.3"/><circle cx="387.5" cy="204.5" r="1.3"/><circle cx="387.8" cy="205.5" r="1.3"/><circle cx="388.2" cy="207.3" r="1.3"/><circle cx="390.6" cy="207.5" r="1.3"/><circle cx="387.5" cy="207.7" r="1.3"/><circle cx="388.2" cy="208.3" r="1.3"/><circle cx="389.9" cy="209.3" r="1.3"/><circle cx="389.6" cy="210.5" r="1.3"/><circle cx="391.8" cy="211.6" r="1.3"/><circle cx="392.0" cy="212.2" r="1.3"/><circle cx="394.1" cy="217.7" r="1.3"/><circle cx="392.5" cy="215.1" r="1.3"/><circle cx="395.9" cy="221.2" r="1.3"/><circle cx="399.3" cy="222.8" r="1.3"/><circle cx="385.4" cy="212.2" r="1.3"/><circle cx="397.2" cy="223.9" r="1.3"/><circle cx="397.9" cy="224.8" r="1.3"/><circle cx="398.2" cy="225.5" r="1.3"/><circle cx="399.3" cy="226.7" r="1.3"/><circle cx="400.0" cy="228.7" r="1.3"/><circle cx="398.6" cy="230.0" r="1.3"/><circle cx="409.3" cy="225.5" r="1.3"/><circle cx="410.0" cy="226.7" r="1.3"/><circle cx="411.1" cy="226.1" r="1.3"/><circle cx="411.8" cy="227.1" r="1.3"/><circle cx="409.3" cy="227.1" r="1.3"/><circle cx="410.7" cy="227.7" r="1.3"/><circle cx="411.4" cy="228.7" r="1.3"/><circle cx="412.1" cy="229.6" r="1.3"/><circle cx="417.0" cy="228.0" r="1.3"/><circle cx="416.3" cy="229.0" r="1.3"/><circle cx="414.9" cy="225.8" r="1.3"/><circle cx="419.4" cy="226.7" r="1.3"/><circle cx="414.2" cy="228.7" r="1.3"/><circle cx="412.5" cy="230.9" r="1.3"/><circle cx="387.8" cy="206.7" r="1.3"/><circle cx="384.3" cy="204.2" r="1.3"/><circle cx="384.6" cy="210.9" r="1.3"/><circle cx="382.8" cy="210.7" r="1.3"/><circle cx="382.6" cy="208.4" r="1.3"/><circle cx="388.8" cy="210.6" r="1.3"/><circle cx="385.8" cy="204.3" r="1.3"/><circle cx="385.6" cy="203.9" r="1.3"/><circle cx="386.1" cy="204.7" r="1.3"/><circle cx="385.5" cy="209.7" r="1.3"/><circle cx="384.4" cy="207.0" r="1.3"/><circle cx="388.0" cy="207.4" r="1.3"/><circle cx="385.5" cy="208.0" r="1.3"/><circle cx="384.2" cy="205.9" r="1.3"/><circle cx="385.4" cy="207.4" r="1.3"/><circle cx="387.4" cy="203.6" r="1.3"/><circle cx="382.5" cy="205.8" r="1.3"/><circle cx="383.6" cy="203.3" r="1.3"/><circle cx="389.0" cy="209.7" r="1.3"/><circle cx="383.6" cy="210.1" r="1.3"/><circle cx="383.3" cy="208.9" r="1.3"/><circle cx="383.9" cy="207.0" r="1.3"/><circle cx="386.0" cy="209.9" r="1.3"/><circle cx="385.2" cy="205.7" r="1.3"/><circle cx="388.4" cy="206.2" r="1.3"/><circle cx="383.2" cy="205.2" r="1.3"/><circle cx="385.1" cy="203.6" r="1.3"/><circle cx="384.2" cy="209.0" r="1.3"/><circle cx="417.7" cy="230.2" r="1.3"/><circle cx="403.7" cy="220.3" r="1.3"/><circle cx="398.1" cy="228.2" r="1.3"/><circle cx="408.7" cy="232.2" r="1.3"/><circle cx="400.0" cy="230.6" r="1.3"/><circle cx="414.9" cy="228.0" r="1.3"/><circle cx="408.0" cy="230.1" r="1.3"/><circle cx="401.3" cy="227.7" r="1.3"/><circle cx="414.2" cy="228.9" r="1.3"/><circle cx="419.6" cy="231.3" r="1.3"/><circle cx="408.2" cy="229.7" r="1.3"/><circle cx="420.9" cy="226.6" r="1.3"/><circle cx="411.6" cy="223.5" r="1.3"/><circle cx="403.9" cy="229.6" r="1.3"/><circle cx="414.4" cy="231.4" r="1.3"/><circle cx="399.0" cy="223.1" r="1.3"/><circle cx="417.9" cy="226.9" r="1.3"/><circle cx="402.2" cy="232.2" r="1.3"/><circle cx="398.9" cy="227.7" r="1.3"/><circle cx="404.2" cy="226.9" r="1.3"/><circle cx="408.1" cy="232.4" r="1.3"/><circle cx="408.1" cy="228.0" r="1.3"/><circle cx="405.3" cy="232.3" r="1.3"/><circle cx="410.3" cy="228.5" r="1.3"/><circle cx="411.4" cy="231.1" r="1.3"/><circle cx="416.3" cy="228.0" r="1.3"/><circle cx="410.2" cy="225.7" r="1.3"/><circle cx="400.8" cy="227.1" r="1.3"/><circle cx="397.5" cy="228.5" r="1.3"/><circle cx="416.9" cy="225.0" r="1.3"/><circle cx="412.8" cy="229.6" r="1.3"/><circle cx="408.1" cy="223.5" r="1.3"/><circle cx="412.2" cy="224.0" r="1.3"/><circle cx="396.7" cy="228.7" r="1.3"/><circle cx="401.7" cy="231.9" r="1.3"/><circle cx="420.7" cy="228.6" r="1.3"/><circle cx="411.8" cy="231.3" r="1.3"/><circle cx="398.6" cy="232.2" r="1.3"/><circle cx="402.8" cy="223.1" r="1.3"/><circle cx="412.6" cy="230.7" r="1.3"/><circle cx="412.7" cy="230.7" r="1.3"/><circle cx="407.1" cy="225.8" r="1.3"/><circle cx="410.2" cy="228.6" r="1.3"/><circle cx="418.3" cy="231.5" r="1.3"/><circle cx="400.8" cy="227.2" r="1.3"/><circle cx="402.7" cy="232.1" r="1.3"/><circle cx="403.8" cy="228.1" r="1.3"/><circle cx="419.4" cy="229.6" r="1.3"/><circle cx="404.6" cy="220.6" r="1.3"/><circle cx="421.3" cy="227.9" r="1.3"/><circle cx="402.0" cy="229.6" r="1.3"/><circle cx="397.4" cy="230.1" r="1.3"/><circle cx="419.6" cy="228.4" r="1.3"/><circle cx="401.8" cy="228.8" r="1.3"/><circle cx="411.5" cy="221.0" r="1.3"/><circle cx="413.8" cy="225.5" r="1.3"/><circle cx="414.2" cy="223.5" r="1.3"/><circle cx="402.3" cy="229.5" r="1.3"/><circle cx="419.4" cy="228.0" r="1.3"/><circle cx="402.6" cy="227.8" r="1.3"/><circle cx="420.7" cy="231.9" r="1.3"/><circle cx="409.5" cy="224.2" r="1.3"/><circle cx="399.1" cy="230.4" r="1.3"/><circle cx="418.8" cy="229.1" r="1.3"/><circle cx="406.7" cy="221.9" r="1.3"/><circle cx="399.8" cy="228.1" r="1.3"/><circle cx="397.1" cy="229.6" r="1.3"/><circle cx="405.7" cy="225.1" r="1.3"/><circle cx="408.6" cy="228.7" r="1.3"/><circle cx="408.1" cy="224.7" r="1.3"/><circle cx="401.9" cy="224.3" r="1.3"/><circle cx="407.3" cy="220.8" r="1.3"/><circle cx="401.3" cy="229.9" r="1.3"/><circle cx="411.9" cy="231.8" r="1.3"/><circle cx="415.5" cy="231.0" r="1.3"/><circle cx="402.8" cy="219.9" r="1.3"/><circle cx="401.4" cy="226.7" r="1.3"/><circle cx="396.5" cy="225.8" r="1.3"/><circle cx="408.6" cy="227.6" r="1.3"/><circle cx="410.7" cy="229.6" r="1.3"/><circle cx="402.7" cy="218.6" r="1.3"/><circle cx="418.2" cy="228.9" r="1.3"/><circle cx="400.9" cy="232.1" r="1.3"/><circle cx="413.4" cy="218.1" r="1.3"/><circle cx="405.9" cy="232.3" r="1.3"/><circle cx="412.5" cy="228.8" r="1.3"/><circle cx="403.7" cy="230.6" r="1.3"/><circle cx="399.0" cy="210.8" r="1.3"/><circle cx="399.0" cy="211.1" r="1.3"/><circle cx="397.1" cy="210.1" r="1.3"/><circle cx="391.4" cy="204.6" r="1.3"/><circle cx="394.6" cy="207.6" r="1.3"/><circle cx="390.8" cy="204.4" r="1.3"/><circle cx="396.2" cy="209.8" r="1.3"/><circle cx="391.7" cy="205.5" r="1.3"/><circle cx="388.1" cy="204.8" r="1.3"/><circle cx="399.4" cy="221.7" r="1.3"/><circle cx="386.8" cy="205.8" r="1.3"/><circle cx="400.5" cy="231.2" r="1.3"/><circle cx="388.0" cy="206.4" r="1.3"/><circle cx="400.5" cy="230.5" r="1.3"/><circle cx="382.7" cy="205.4" r="1.3"/><circle cx="396.0" cy="215.2" r="1.3"/><circle cx="383.2" cy="205.5" r="1.3"/><circle cx="390.5" cy="208.8" r="1.3"/><circle cx="388.4" cy="208.2" r="1.3"/><circle cx="385.8" cy="207.2" r="1.3"/><circle cx="390.5" cy="210.0" r="1.3"/><circle cx="388.6" cy="208.7" r="1.3"/><circle cx="389.2" cy="209.3" r="1.3"/><circle cx="396.1" cy="217.8" r="1.3"/><circle cx="399.1" cy="231.0" r="1.3"/><circle cx="398.3" cy="224.9" r="1.3"/><circle cx="392.7" cy="212.6" r="1.3"/><circle cx="396.1" cy="218.6" r="1.3"/><circle cx="398.8" cy="230.4" r="1.3"/><circle cx="383.1" cy="207.9" r="1.3"/><circle cx="382.2" cy="208.1" r="1.3"/><circle cx="394.3" cy="216.3" r="1.3"/></g><g fill="#30F000"><circle cx="385.7" cy="217.1" r="1.3"/><circle cx="387.7" cy="218.8" r="1.3"/><circle cx="385.5" cy="214.5" r="1.3"/><circle cx="387.1" cy="216.5" r="1.3"/><circle cx="388.9" cy="217.7" r="1.3"/><circle cx="389.9" cy="218.3" r="1.3"/><circle cx="390.9" cy="218.6" r="1.3"/><circle cx="389.6" cy="220.6" r="1.3"/><circle cx="390.2" cy="221.2" r="1.3"/><circle cx="390.9" cy="222.5" r="1.3"/><circle cx="392.0" cy="224.2" r="1.3"/><circle cx="393.4" cy="226.1" r="1.3"/><circle cx="392.7" cy="226.7" r="1.3"/><circle cx="393.7" cy="228.7" r="1.3"/><circle cx="392.3" cy="229.6" r="1.3"/><circle cx="392.0" cy="231.9" r="1.3"/><circle cx="393.3" cy="222.8" r="1.3"/><circle cx="392.6" cy="221.5" r="1.3"/><circle cx="388.4" cy="215.8" r="1.3"/><circle cx="387.3" cy="215.0" r="1.3"/><circle cx="384.1" cy="213.7" r="1.3"/><circle cx="390.0" cy="217.7" r="1.3"/><circle cx="394.5" cy="229.1" r="1.3"/><circle cx="390.3" cy="218.2" r="1.3"/><circle cx="391.8" cy="220.6" r="1.3"/><circle cx="385.8" cy="214.6" r="1.3"/><circle cx="392.0" cy="221.1" r="1.3"/><circle cx="390.2" cy="218.3" r="1.3"/><circle cx="383.9" cy="214.2" r="1.3"/><circle cx="391.3" cy="220.1" r="1.3"/><circle cx="389.5" cy="217.7" r="1.3"/><circle cx="392.0" cy="221.4" r="1.3"/><circle cx="392.5" cy="222.8" r="1.3"/><circle cx="385.3" cy="214.8" r="1.3"/><circle cx="387.9" cy="216.3" r="1.3"/><circle cx="385.7" cy="215.0" r="1.3"/><circle cx="385.7" cy="215.1" r="1.3"/><circle cx="394.2" cy="231.3" r="1.3"/><circle cx="394.1" cy="230.4" r="1.3"/><circle cx="388.0" cy="216.7" r="1.3"/><circle cx="391.1" cy="220.5" r="1.3"/><circle cx="382.9" cy="214.6" r="1.3"/><circle cx="393.1" cy="225.4" r="1.3"/><circle cx="384.3" cy="215.0" r="1.3"/><circle cx="384.3" cy="215.0" r="1.3"/><circle cx="392.9" cy="224.9" r="1.3"/><circle cx="384.3" cy="215.0" r="1.3"/><circle cx="393.6" cy="229.3" r="1.3"/><circle cx="383.7" cy="215.2" r="1.3"/><circle cx="391.3" cy="222.0" r="1.3"/><circle cx="392.2" cy="224.0" r="1.3"/></g><g fill="#8800FF"><circle cx="386.3" cy="179.0" r="1.3"/><circle cx="384.7" cy="181.1" r="1.3"/><circle cx="393.1" cy="180.9" r="1.3"/><circle cx="391.3" cy="183.1" r="1.3"/><circle cx="408.6" cy="178.0" r="1.3"/><circle cx="397.9" cy="185.1" r="1.3"/><circle cx="403.2" cy="190.1" r="1.3"/><circle cx="413.9" cy="191.0" r="1.3"/><circle cx="418.4" cy="192.3" r="1.3"/><circle cx="393.1" cy="188.9" r="1.3"/><circle cx="397.2" cy="192.0" r="1.3"/><circle cx="382.1" cy="190.1" r="1.3"/><circle cx="406.2" cy="201.0" r="1.3"/><circle cx="401.4" cy="202.3" r="1.3"/><circle cx="397.4" cy="202.8" r="1.3"/><circle cx="405.9" cy="205.6" r="1.3"/><circle cx="409.1" cy="207.7" r="1.3"/><circle cx="401.8" cy="209.1" r="1.3"/><circle cx="405.0" cy="209.3" r="1.3"/><circle cx="417.5" cy="209.4" r="1.3"/><circle cx="418.6" cy="210.3" r="1.3"/><circle cx="409.0" cy="212.8" r="1.3"/><circle cx="413.7" cy="215.6" r="1.3"/><circle cx="412.8" cy="217.5" r="1.3"/><circle cx="418.5" cy="218.3" r="1.3"/><circle cx="384.8" cy="183.8" r="1.3"/><circle cx="385.3" cy="181.9" r="1.3"/><circle cx="382.6" cy="173.5" r="1.3"/><circle cx="391.8" cy="172.8" r="1.3"/><circle cx="395.1" cy="175.7" r="1.3"/><circle cx="408.9" cy="178.2" r="1.3"/><circle cx="386.4" cy="179.4" r="1.3"/><circle cx="384.9" cy="181.3" r="1.3"/><circle cx="393.2" cy="181.3" r="1.3"/><circle cx="391.8" cy="183.0" r="1.3"/><circle cx="398.1" cy="185.2" r="1.3"/><circle cx="395.1" cy="175.8" r="1.3"/><circle cx="386.1" cy="179.7" r="1.3"/><circle cx="384.6" cy="181.2" r="1.3"/><circle cx="393.1" cy="181.2" r="1.3"/><circle cx="391.6" cy="183.1" r="1.3"/><circle cx="398.0" cy="185.3" r="1.3"/><circle cx="403.3" cy="190.2" r="1.3"/><circle cx="397.0" cy="192.1" r="1.3"/><circle cx="414.1" cy="190.9" r="1.3"/><circle cx="418.2" cy="192.4" r="1.3"/><circle cx="392.6" cy="189.2" r="1.3"/><circle cx="393.1" cy="191.4" r="1.3"/><circle cx="406.5" cy="200.1" r="1.3"/><circle cx="394.0" cy="196.4" r="1.3"/><circle cx="397.6" cy="202.5" r="1.3"/><circle cx="401.6" cy="202.2" r="1.3"/><circle cx="406.4" cy="201.1" r="1.3"/><circle cx="405.9" cy="205.9" r="1.3"/><circle cx="408.9" cy="208.1" r="1.3"/><circle cx="402.0" cy="209.2" r="1.3"/><circle cx="405.4" cy="209.5" r="1.3"/><circle cx="408.9" cy="212.4" r="1.3"/><circle cx="417.3" cy="209.2" r="1.3"/><circle cx="418.5" cy="210.2" r="1.3"/><circle cx="413.2" cy="215.4" r="1.3"/><circle cx="418.8" cy="218.3" r="1.3"/><circle cx="413.2" cy="220.5" r="1.3"/><circle cx="397.2" cy="192.7" r="1.3"/><circle cx="413.7" cy="192.0" r="1.3"/><circle cx="418.5" cy="192.7" r="1.3"/></g><g fill="#4A10FF"><circle cx="383.7" cy="186.0" r="1.3"/><circle cx="388.5" cy="185.6" r="1.3"/><circle cx="386.3" cy="186.9" r="1.3"/><circle cx="388.4" cy="186.9" r="1.3"/><circle cx="382.3" cy="186.9" r="1.3"/><circle cx="387.8" cy="188.8" r="1.3"/><circle cx="385.0" cy="189.4" r="1.3"/><circle cx="392.2" cy="191.2" r="1.3"/><circle cx="383.0" cy="191.5" r="1.3"/><circle cx="387.5" cy="192.6" r="1.3"/><circle cx="382.3" cy="193.1" r="1.3"/><circle cx="393.9" cy="195.8" r="1.3"/><circle cx="394.4" cy="196.8" r="1.3"/><circle cx="383.0" cy="198.7" r="1.3"/><circle cx="393.7" cy="200.5" r="1.3"/><circle cx="394.6" cy="200.5" r="1.3"/><circle cx="382.3" cy="202.6" r="1.3"/><circle cx="382.3" cy="206.1" r="1.3"/><circle cx="397.3" cy="209.3" r="1.3"/><circle cx="396.7" cy="209.4" r="1.3"/><circle cx="412.8" cy="220.9" r="1.3"/><circle cx="418.5" cy="222.3" r="1.3"/><circle cx="413.3" cy="222.9" r="1.3"/><circle cx="407.6" cy="219.3" r="1.3"/><circle cx="398.8" cy="213.0" r="1.3"/><circle cx="398.4" cy="215.1" r="1.3"/><circle cx="403.8" cy="218.3" r="1.3"/><circle cx="405.2" cy="221.0" r="1.3"/><circle cx="382.3" cy="206.7" r="1.3"/><circle cx="382.3" cy="208.3" r="1.3"/><circle cx="401.0" cy="231.9" r="1.3"/><circle cx="402.1" cy="231.6" r="1.3"/><circle cx="410.9" cy="232.2" r="1.3"/><circle cx="387.9" cy="193.0" r="1.3"/><circle cx="382.8" cy="189.2" r="1.3"/><circle cx="384.7" cy="187.6" r="1.3"/><circle cx="389.2" cy="191.3" r="1.3"/><circle cx="387.4" cy="190.7" r="1.3"/><circle cx="383.8" cy="186.7" r="1.3"/><circle cx="388.1" cy="186.2" r="1.3"/><circle cx="387.4" cy="188.1" r="1.3"/><circle cx="393.2" cy="188.6" r="1.3"/><circle cx="388.2" cy="186.3" r="1.3"/><circle cx="388.7" cy="187.7" r="1.3"/><circle cx="386.4" cy="188.5" r="1.3"/><circle cx="383.9" cy="187.0" r="1.3"/><circle cx="384.6" cy="189.9" r="1.3"/><circle cx="387.5" cy="193.6" r="1.3"/><circle cx="389.0" cy="195.0" r="1.3"/><circle cx="394.1" cy="195.8" r="1.3"/></g><g fill="#2855FF"><circle cx="387.8" cy="193.6" r="1.3"/><circle cx="388.2" cy="195.4" r="1.3"/><circle cx="387.7" cy="197.6" r="1.3"/><circle cx="389.4" cy="198.3" r="1.3"/><circle cx="391.4" cy="198.5" r="1.3"/><circle cx="384.5" cy="199.5" r="1.3"/><circle cx="386.3" cy="199.5" r="1.3"/><circle cx="388.3" cy="200.3" r="1.3"/><circle cx="390.1" cy="200.7" r="1.3"/><circle cx="388.7" cy="202.6" r="1.3"/><circle cx="390.4" cy="202.9" r="1.3"/><circle cx="384.5" cy="205.2" r="1.3"/><circle cx="393.0" cy="206.4" r="1.3"/><circle cx="395.2" cy="207.1" r="1.3"/><circle cx="393.9" cy="208.5" r="1.3"/><circle cx="394.4" cy="209.6" r="1.3"/><circle cx="395.8" cy="210.7" r="1.3"/><circle cx="393.9" cy="213.5" r="1.3"/><circle cx="395.9" cy="216.4" r="1.3"/><circle cx="400.7" cy="217.3" r="1.3"/><circle cx="402.2" cy="217.7" r="1.3"/><circle cx="401.9" cy="218.8" r="1.3"/><circle cx="397.4" cy="219.1" r="1.3"/><circle cx="400.7" cy="219.9" r="1.3"/><circle cx="398.1" cy="220.6" r="1.3"/><circle cx="401.0" cy="220.9" r="1.3"/><circle cx="402.9" cy="220.8" r="1.3"/><circle cx="406.9" cy="222.9" r="1.3"/><circle cx="382.3" cy="211.9" r="1.3"/><circle cx="402.7" cy="224.5" r="1.3"/><circle cx="404.5" cy="224.0" r="1.3"/><circle cx="407.3" cy="224.8" r="1.3"/><circle cx="409.0" cy="224.2" r="1.3"/><circle cx="403.8" cy="226.9" r="1.3"/><circle cx="404.8" cy="226.6" r="1.3"/><circle cx="406.2" cy="228.8" r="1.3"/><circle cx="408.0" cy="230.3" r="1.3"/><circle cx="413.9" cy="224.5" r="1.3"/><circle cx="415.6" cy="225.1" r="1.3"/><circle cx="417.3" cy="223.9" r="1.3"/><circle cx="417.0" cy="225.8" r="1.3"/><circle cx="414.9" cy="230.9" r="1.3"/><circle cx="415.2" cy="231.9" r="1.3"/><circle cx="417.2" cy="230.3" r="1.3"/><circle cx="419.8" cy="224.2" r="1.3"/><circle cx="386.4" cy="201.9" r="1.3"/><circle cx="383.3" cy="201.7" r="1.3"/><circle cx="383.6" cy="196.2" r="1.3"/><circle cx="383.2" cy="199.4" r="1.3"/><circle cx="382.9" cy="201.2" r="1.3"/><circle cx="386.5" cy="198.9" r="1.3"/><circle cx="386.8" cy="199.0" r="1.3"/><circle cx="385.0" cy="199.8" r="1.3"/><circle cx="382.8" cy="196.9" r="1.3"/><circle cx="382.5" cy="199.0" r="1.3"/><circle cx="386.4" cy="202.1" r="1.3"/><circle cx="383.4" cy="202.0" r="1.3"/><circle cx="383.9" cy="197.8" r="1.3"/><circle cx="383.6" cy="202.4" r="1.3"/><circle cx="387.6" cy="201.2" r="1.3"/><circle cx="385.7" cy="202.7" r="1.3"/><circle cx="386.1" cy="196.3" r="1.3"/><circle cx="385.1" cy="200.9" r="1.3"/><circle cx="384.2" cy="201.8" r="1.3"/><circle cx="383.4" cy="201.6" r="1.3"/><circle cx="391.4" cy="198.2" r="1.3"/><circle cx="386.7" cy="199.4" r="1.3"/><circle cx="384.3" cy="203.2" r="1.3"/><circle cx="382.2" cy="200.1" r="1.3"/><circle cx="389.8" cy="199.4" r="1.3"/><circle cx="406.6" cy="231.2" r="1.3"/><circle cx="414.0" cy="231.4" r="1.3"/><circle cx="416.9" cy="227.1" r="1.3"/><circle cx="404.9" cy="224.0" r="1.3"/><circle cx="406.9" cy="217.7" r="1.3"/><circle cx="408.6" cy="229.5" r="1.3"/><circle cx="420.2" cy="232.1" r="1.3"/><circle cx="400.5" cy="216.7" r="1.3"/><circle cx="401.0" cy="232.0" r="1.3"/><circle cx="405.3" cy="219.3" r="1.3"/><circle cx="416.7" cy="224.3" r="1.3"/><circle cx="412.8" cy="230.3" r="1.3"/></g><g fill="#00D8F0"><circle cx="393.7" cy="222.7" r="1.3"/><circle cx="385.4" cy="213.2" r="1.3"/><circle cx="388.9" cy="211.9" r="1.3"/><circle cx="388.9" cy="214.1" r="1.3"/><circle cx="389.6" cy="215.4" r="1.3"/><circle cx="391.6" cy="216.7" r="1.3"/><circle cx="382.3" cy="213.8" r="1.3"/><circle cx="395.8" cy="223.5" r="1.3"/><circle cx="395.5" cy="224.5" r="1.3"/><circle cx="396.2" cy="225.1" r="1.3"/><circle cx="395.8" cy="228.0" r="1.3"/><circle cx="396.8" cy="228.7" r="1.3"/><circle cx="396.2" cy="231.6" r="1.3"/><circle cx="411.6" cy="231.7" r="1.3"/><circle cx="396.0" cy="229.7" r="1.3"/><circle cx="416.5" cy="226.4" r="1.3"/><circle cx="401.2" cy="218.1" r="1.3"/><circle cx="395.3" cy="231.0" r="1.3"/><circle cx="414.7" cy="227.5" r="1.3"/><circle cx="403.4" cy="224.9" r="1.3"/><circle cx="395.5" cy="228.8" r="1.3"/><circle cx="394.8" cy="229.6" r="1.3"/><circle cx="395.0" cy="228.3" r="1.3"/><circle cx="418.5" cy="227.5" r="1.3"/><circle cx="406.6" cy="231.9" r="1.3"/><circle cx="395.3" cy="228.5" r="1.3"/><circle cx="394.8" cy="226.3" r="1.3"/><circle cx="414.7" cy="222.6" r="1.3"/><circle cx="402.1" cy="228.8" r="1.3"/><circle cx="395.3" cy="227.7" r="1.3"/><circle cx="395.5" cy="229.4" r="1.3"/><circle cx="394.7" cy="222.4" r="1.3"/><circle cx="395.7" cy="226.2" r="1.3"/><circle cx="395.3" cy="224.0" r="1.3"/><circle cx="390.2" cy="211.4" r="1.3"/><circle cx="382.3" cy="208.4" r="1.3"/><circle cx="392.7" cy="214.3" r="1.3"/><circle cx="384.4" cy="208.7" r="1.3"/><circle cx="391.5" cy="213.3" r="1.3"/><circle cx="388.3" cy="210.8" r="1.3"/><circle cx="388.2" cy="211.0" r="1.3"/><circle cx="389.1" cy="211.7" r="1.3"/><circle cx="389.2" cy="211.8" r="1.3"/><circle cx="397.4" cy="229.0" r="1.3"/><circle cx="384.5" cy="209.6" r="1.3"/><circle cx="395.3" cy="220.8" r="1.3"/><circle cx="397.4" cy="232.0" r="1.3"/><circle cx="390.1" cy="213.2" r="1.3"/><circle cx="392.3" cy="216.4" r="1.3"/><circle cx="386.4" cy="211.4" r="1.3"/><circle cx="393.4" cy="218.5" r="1.3"/><circle cx="396.7" cy="231.5" r="1.3"/><circle cx="382.3" cy="210.6" r="1.3"/><circle cx="389.2" cy="213.4" r="1.3"/><circle cx="393.8" cy="219.5" r="1.3"/><circle cx="396.5" cy="230.5" r="1.3"/><circle cx="394.4" cy="221.2" r="1.3"/><circle cx="385.9" cy="211.7" r="1.3"/><circle cx="386.5" cy="212.0" r="1.3"/><circle cx="395.7" cy="225.3" r="1.3"/><circle cx="385.2" cy="211.5" r="1.3"/><circle cx="395.1" cy="223.6" r="1.3"/><circle cx="388.7" cy="213.8" r="1.3"/><circle cx="389.4" cy="214.5" r="1.3"/></g></g>
<rect x="382.1" y="172.3" width="39.8" height="60.1" fill="#c0c0c0" fill-opacity="0.52"/>
<g clip-path="url(#cB)"><g fill="#8800FF"><circle cx="382.7" cy="9.1" r="1.3"/><circle cx="383.3" cy="24.8" r="1.3"/><circle cx="384.9" cy="24.8" r="1.3"/><circle cx="383.8" cy="62.4" r="1.3"/><circle cx="384.9" cy="62.4" r="1.3"/><circle cx="384.2" cy="84.3" r="1.3"/><circle cx="386.7" cy="101.7" r="1.3"/><circle cx="387.8" cy="119.6" r="1.3"/><circle cx="385.2" cy="124.7" r="1.3"/><circle cx="382.6" cy="124.7" r="1.3"/><circle cx="397.6" cy="125.6" r="1.3"/><circle cx="383.8" cy="129.2" r="1.3"/><circle cx="382.6" cy="137.1" r="1.3"/><circle cx="387.4" cy="147.3" r="1.3"/><circle cx="382.6" cy="150.4" r="1.3"/><circle cx="384.9" cy="155.6" r="1.3"/><circle cx="391.4" cy="155.3" r="1.3"/><circle cx="385.5" cy="160.8" r="1.3"/><circle cx="387.4" cy="161.6" r="1.3"/><circle cx="391.8" cy="160.8" r="1.3"/><circle cx="391.4" cy="164.5" r="1.3"/><circle cx="406.8" cy="164.1" r="1.3"/><circle cx="382.6" cy="162.6" r="1.3"/><circle cx="385.5" cy="169.2" r="1.3"/><circle cx="387.4" cy="169.9" r="1.3"/><circle cx="389.6" cy="169.5" r="1.3"/><circle cx="391.8" cy="169.6" r="1.3"/><circle cx="396.6" cy="169.6" r="1.3"/><circle cx="386.7" cy="171.4" r="1.3"/><circle cx="383.0" cy="169.2" r="1.3"/><circle cx="437.5" cy="184.2" r="1.3"/><circle cx="437.4" cy="195.5" r="1.3"/><circle cx="429.4" cy="199.1" r="1.3"/><circle cx="437.0" cy="206.2" r="1.3"/><circle cx="441.9" cy="204.8" r="1.3"/><circle cx="445.1" cy="205.1" r="1.3"/><circle cx="458.6" cy="206.9" r="1.3"/><circle cx="471.4" cy="204.4" r="1.3"/><circle cx="475.0" cy="206.6" r="1.3"/><circle cx="474.3" cy="213.6" r="1.3"/><circle cx="433.7" cy="215.1" r="1.3"/><circle cx="443.9" cy="215.8" r="1.3"/><circle cx="454.9" cy="216.1" r="1.3"/><circle cx="468.4" cy="221.2" r="1.3"/><circle cx="470.6" cy="222.9" r="1.3"/><circle cx="474.3" cy="222.7" r="1.3"/><circle cx="454.6" cy="219.7" r="1.3"/><circle cx="448.0" cy="219.7" r="1.3"/><circle cx="450.2" cy="224.1" r="1.3"/><circle cx="454.6" cy="225.6" r="1.3"/><circle cx="450.9" cy="228.2" r="1.3"/><circle cx="458.5" cy="231.1" r="1.3"/><circle cx="450.9" cy="221.2" r="1.3"/><circle cx="478.4" cy="221.2" r="1.3"/><circle cx="487.6" cy="219.3" r="1.3"/><circle cx="490.1" cy="221.2" r="1.3"/><circle cx="488.6" cy="222.4" r="1.3"/><circle cx="483.7" cy="224.4" r="1.3"/><circle cx="485.7" cy="227.3" r="1.3"/><circle cx="483.7" cy="228.2" r="1.3"/><circle cx="494.5" cy="227.5" r="1.3"/><circle cx="473.8" cy="231.4" r="1.3"/><circle cx="494.5" cy="231.7" r="1.3"/><circle cx="508.8" cy="211.7" r="1.3"/><circle cx="506.6" cy="215.4" r="1.3"/><circle cx="510.5" cy="218.3" r="1.3"/><circle cx="507.3" cy="227.0" r="1.3"/><circle cx="504.0" cy="228.1" r="1.3"/><circle cx="517.8" cy="225.6" r="1.3"/><circle cx="517.8" cy="231.1" r="1.3"/><circle cx="527.5" cy="210.2" r="1.3"/><circle cx="529.7" cy="221.9" r="1.3"/><circle cx="535.1" cy="223.4" r="1.3"/><circle cx="545.6" cy="221.6" r="1.3"/><circle cx="543.8" cy="223.1" r="1.3"/><circle cx="541.9" cy="227.0" r="1.3"/><circle cx="551.9" cy="225.3" r="1.3"/><circle cx="550.4" cy="226.3" r="1.3"/><circle cx="555.1" cy="226.6" r="1.3"/><circle cx="562.8" cy="219.0" r="1.3"/><circle cx="570.0" cy="219.0" r="1.3"/><circle cx="568.1" cy="222.2" r="1.3"/><circle cx="570.8" cy="223.4" r="1.3"/><circle cx="584.6" cy="218.3" r="1.3"/><circle cx="580.1" cy="224.8" r="1.3"/><circle cx="579.5" cy="230.0" r="1.3"/><circle cx="588.3" cy="228.5" r="1.3"/><circle cx="597.6" cy="217.5" r="1.3"/><circle cx="595.1" cy="225.3" r="1.3"/><circle cx="608.3" cy="210.0" r="1.3"/><circle cx="604.6" cy="221.2" r="1.3"/><circle cx="606.1" cy="222.4" r="1.3"/><circle cx="607.6" cy="223.7" r="1.3"/><circle cx="623.6" cy="221.5" r="1.3"/><circle cx="627.3" cy="222.7" r="1.3"/><circle cx="620.0" cy="227.0" r="1.3"/><circle cx="616.3" cy="228.8" r="1.3"/><circle cx="622.9" cy="230.2" r="1.3"/><circle cx="626.5" cy="228.2" r="1.3"/><circle cx="633.1" cy="229.2" r="1.3"/></g><g fill="#4A10FF"><circle cx="383.3" cy="109.3" r="1.3"/><circle cx="429.7" cy="213.9" r="1.3"/><circle cx="427.6" cy="215.4" r="1.3"/><circle cx="426.1" cy="219.0" r="1.3"/><circle cx="422.9" cy="219.7" r="1.3"/><circle cx="424.6" cy="222.7" r="1.3"/><circle cx="426.8" cy="222.7" r="1.3"/><circle cx="431.2" cy="220.5" r="1.3"/><circle cx="432.7" cy="221.9" r="1.3"/><circle cx="435.6" cy="221.2" r="1.3"/><circle cx="438.5" cy="221.2" r="1.3"/><circle cx="434.1" cy="223.4" r="1.3"/><circle cx="432.7" cy="224.8" r="1.3"/><circle cx="428.3" cy="227.0" r="1.3"/><circle cx="430.5" cy="227.8" r="1.3"/><circle cx="423.2" cy="229.2" r="1.3"/><circle cx="425.4" cy="230.7" r="1.3"/><circle cx="429.7" cy="230.7" r="1.3"/><circle cx="437.8" cy="227.0" r="1.3"/><circle cx="440.0" cy="228.5" r="1.3"/><circle cx="443.6" cy="224.8" r="1.3"/><circle cx="445.1" cy="226.3" r="1.3"/><circle cx="446.5" cy="227.0" r="1.3"/><circle cx="444.3" cy="228.5" r="1.3"/><circle cx="445.8" cy="230.2" r="1.3"/><circle cx="434.9" cy="231.1" r="1.3"/><circle cx="438.5" cy="231.1" r="1.3"/><circle cx="442.9" cy="231.1" r="1.3"/><circle cx="424.1" cy="229.2" r="1.3"/><circle cx="440.4" cy="214.0" r="1.3"/><circle cx="424.4" cy="232.1" r="1.3"/><circle cx="428.9" cy="231.4" r="1.3"/><circle cx="452.5" cy="222.2" r="1.3"/><circle cx="448.2" cy="224.1" r="1.3"/><circle cx="452.1" cy="222.9" r="1.3"/><circle cx="443.0" cy="224.4" r="1.3"/><circle cx="445.2" cy="221.2" r="1.3"/><circle cx="429.7" cy="224.7" r="1.3"/><circle cx="444.3" cy="217.7" r="1.3"/><circle cx="426.1" cy="228.4" r="1.3"/><circle cx="428.7" cy="217.3" r="1.3"/><circle cx="452.2" cy="228.8" r="1.3"/><circle cx="443.9" cy="221.0" r="1.3"/><circle cx="448.1" cy="220.1" r="1.3"/></g></g>
<g fill="none" stroke="#777" stroke-width="0.8"><path d="M41.6,165.3C55.9,134.2 83.8,111.3 125.2,109.4"/><path d="M401.4,170.5C413.3,138.8 440,96.8 509.6,94.2"/></g>
<path d="M125.2,105.4L135,109.1L125.2,113.1Z" fill="#000"/>
<path d="M509.6,89.8L519.2,94.2L509.6,98.2Z" fill="#000"/>
<rect x="152.7" y="19.7" width="94.1" height="122.4" fill="#fff"/>
<rect x="535.6" y="58.6" width="79.3" height="127.6" fill="#fff"/>
<g clip-path="url(#cIA)"><g fill="#8800FF"><circle cx="153.2" cy="19.4" r="2.25"/><circle cx="160.9" cy="18.8" r="2.25"/><circle cx="205.5" cy="23.0" r="2.25"/><circle cx="208.0" cy="24.5" r="2.25"/><circle cx="221.1" cy="48.4" r="2.25"/><circle cx="216.7" cy="51.8" r="2.25"/><circle cx="232.5" cy="54.1" r="2.25"/><circle cx="234.4" cy="64.9" r="2.25"/><circle cx="245.6" cy="100.8" r="2.25"/><circle cx="230.7" cy="108.1" r="2.25"/><circle cx="242.3" cy="110.1" r="2.25"/><circle cx="246.4" cy="111.0" r="2.25"/><circle cx="222.0" cy="118.3" r="2.25"/><circle cx="237.3" cy="123.7" r="2.25"/><circle cx="152.9" cy="123.7" r="2.25"/><circle cx="164.3" cy="131.0" r="2.25"/><circle cx="241.2" cy="130.7" r="2.25"/></g><g fill="#2855FF"><circle cx="156.3" cy="30.3" r="2.25"/><circle cx="165.0" cy="29.2" r="2.25"/><circle cx="175.1" cy="24.6" r="2.25"/><circle cx="174.5" cy="29.2" r="2.25"/><circle cx="197.7" cy="31.5" r="2.25"/><circle cx="204.3" cy="36.9" r="2.25"/><circle cx="208.8" cy="48.0" r="2.25"/><circle cx="207.2" cy="72.6" r="2.25"/><circle cx="219.8" cy="72.2" r="2.25"/><circle cx="224.0" cy="70.7" r="2.25"/><circle cx="225.2" cy="76.6" r="2.25"/><circle cx="226.6" cy="82.4" r="2.25"/><circle cx="203.3" cy="95.9" r="2.25"/><circle cx="208.7" cy="98.4" r="2.25"/><circle cx="193.4" cy="104.3" r="2.25"/></g><g fill="#1890FF"><circle cx="183.6" cy="25.2" r="2.25"/><circle cx="184.7" cy="27.4" r="2.25"/><circle cx="155.8" cy="36.2" r="2.25"/><circle cx="157.0" cy="38.4" r="2.25"/><circle cx="155.1" cy="42.0" r="2.25"/><circle cx="202.3" cy="48.6" r="2.25"/><circle cx="203.3" cy="50.8" r="2.25"/><circle cx="201.8" cy="53.7" r="2.25"/><circle cx="218.3" cy="77.0" r="2.25"/><circle cx="217.2" cy="79.9" r="2.25"/><circle cx="214.2" cy="80.7" r="2.25"/><circle cx="212.0" cy="80.7" r="2.25"/><circle cx="206.6" cy="83.3" r="2.25"/><circle cx="210.6" cy="86.5" r="2.25"/><circle cx="170.4" cy="103.2" r="2.25"/><circle cx="152.9" cy="112.0" r="2.25"/><circle cx="194.5" cy="96.7" r="2.25"/><circle cx="192.6" cy="99.2" r="2.25"/></g><g fill="#00D8F0"><circle cx="186.8" cy="30.8" r="2.25"/><circle cx="161.4" cy="41.6" r="2.25"/><circle cx="155.8" cy="47.8" r="2.25"/><circle cx="176.6" cy="35.4" r="2.25"/><circle cx="199.6" cy="43.5" r="2.25"/><circle cx="152.9" cy="51.5" r="2.25"/><circle cx="194.5" cy="58.0" r="2.25"/><circle cx="194.5" cy="60.2" r="2.25"/><circle cx="197.4" cy="72.6" r="2.25"/><circle cx="201.1" cy="79.2" r="2.25"/><circle cx="189.1" cy="93.0" r="2.25"/><circle cx="175.5" cy="96.7" r="2.25"/><circle cx="173.1" cy="98.9" r="2.25"/><circle cx="180.9" cy="97.4" r="2.25"/><circle cx="184.3" cy="97.4" r="2.25"/><circle cx="165.3" cy="104.0" r="2.25"/><circle cx="162.8" cy="106.6" r="2.25"/></g><g fill="#00F0A0"><circle cx="166.1" cy="42.7" r="2.25"/><circle cx="171.2" cy="41.0" r="2.25"/><circle cx="177.0" cy="38.1" r="2.25"/><circle cx="192.6" cy="35.7" r="2.25"/></g><g fill="#30F000"><circle cx="161.4" cy="50.5" r="2.25"/><circle cx="167.5" cy="49.3" r="2.25"/><circle cx="173.4" cy="46.4" r="2.25"/><circle cx="174.1" cy="52.2" r="2.25"/><circle cx="176.3" cy="53.2" r="2.25"/><circle cx="184.3" cy="41.3" r="2.25"/><circle cx="185.8" cy="38.4" r="2.25"/><circle cx="189.4" cy="36.2" r="2.25"/><circle cx="193.1" cy="39.1" r="2.25"/><circle cx="194.5" cy="42.4" r="2.25"/><circle cx="192.3" cy="45.7" r="2.25"/><circle cx="190.9" cy="50.8" r="2.25"/><circle cx="193.8" cy="51.5" r="2.25"/><circle cx="176.3" cy="55.1" r="2.25"/><circle cx="157.3" cy="58.0" r="2.25"/><circle cx="161.4" cy="56.6" r="2.25"/><circle cx="167.5" cy="58.0" r="2.25"/><circle cx="155.1" cy="60.9" r="2.25"/><circle cx="163.1" cy="64.6" r="2.25"/><circle cx="169.3" cy="64.6" r="2.25"/><circle cx="174.1" cy="63.9" r="2.25"/><circle cx="177.0" cy="61.7" r="2.25"/><circle cx="187.2" cy="55.8" r="2.25"/><circle cx="188.2" cy="58.0" r="2.25"/><circle cx="189.1" cy="64.6" r="2.25"/><circle cx="189.4" cy="67.2" r="2.25"/><circle cx="156.6" cy="68.7" r="2.25"/><circle cx="158.8" cy="69.7" r="2.25"/><circle cx="173.4" cy="70.9" r="2.25"/><circle cx="191.6" cy="74.1" r="2.25"/><circle cx="194.5" cy="76.3" r="2.25"/><circle cx="166.4" cy="77.0" r="2.25"/><circle cx="171.2" cy="77.0" r="2.25"/><circle cx="166.8" cy="81.4" r="2.25"/><circle cx="167.2" cy="84.3" r="2.25"/><circle cx="190.1" cy="80.7" r="2.25"/><circle cx="174.1" cy="89.4" r="2.25"/><circle cx="185.0" cy="89.4" r="2.25"/><circle cx="153.2" cy="105.4" r="2.25"/><circle cx="158.8" cy="105.9" r="2.25"/><circle cx="167.5" cy="93.8" r="2.25"/><circle cx="174.1" cy="86.5" r="2.25"/><circle cx="178.5" cy="91.6" r="2.25"/><circle cx="182.8" cy="90.8" r="2.25"/></g><g fill="#A0F000"><circle cx="182.4" cy="50.8" r="2.25"/><circle cx="182.8" cy="45.7" r="2.25"/><circle cx="182.8" cy="57.3" r="2.25"/><circle cx="181.4" cy="60.2" r="2.25"/><circle cx="184.3" cy="64.6" r="2.25"/><circle cx="177.7" cy="66.8" r="2.25"/><circle cx="176.3" cy="73.4" r="2.25"/><circle cx="178.5" cy="75.1" r="2.25"/><circle cx="187.7" cy="76.3" r="2.25"/><circle cx="174.1" cy="82.1" r="2.25"/><circle cx="180.9" cy="85.0" r="2.25"/><circle cx="173.4" cy="84.3" r="2.25"/><circle cx="167.2" cy="87.2" r="2.25"/><circle cx="177.7" cy="54.4" r="2.25"/><circle cx="183.6" cy="60.9" r="2.25"/><circle cx="185.0" cy="57.3" r="2.25"/><circle cx="179.2" cy="66.1" r="2.25"/><circle cx="177.0" cy="68.2" r="2.25"/><circle cx="174.8" cy="74.1" r="2.25"/><circle cx="179.2" cy="73.4" r="2.25"/><circle cx="177.7" cy="78.5" r="2.25"/><circle cx="175.5" cy="79.9" r="2.25"/><circle cx="179.2" cy="82.8" r="2.25"/><circle cx="183.6" cy="78.5" r="2.25"/></g><g fill="#4A10FF"><circle cx="226.6" cy="59.1" r="2.25"/><circle cx="220.8" cy="62.1" r="2.25"/><circle cx="212.0" cy="63.1" r="2.25"/><circle cx="225.6" cy="64.2" r="2.25"/><circle cx="230.3" cy="87.2" r="2.25"/><circle cx="213.5" cy="102.2" r="2.25"/><circle cx="210.6" cy="103.7" r="2.25"/><circle cx="208.4" cy="103.7" r="2.25"/><circle cx="189.4" cy="107.9" r="2.25"/><circle cx="194.5" cy="108.4" r="2.25"/><circle cx="199.6" cy="109.4" r="2.25"/><circle cx="196.0" cy="112.3" r="2.25"/><circle cx="224.7" cy="94.5" r="2.25"/><circle cx="226.2" cy="95.5" r="2.25"/><circle cx="228.4" cy="98.6" r="2.25"/></g><g fill="#FFE800"><circle cx="181.4" cy="73.1" r="2.25"/><circle cx="185.8" cy="69.7" r="2.25"/><circle cx="186.5" cy="73.1" r="2.25"/><circle cx="177.0" cy="80.7" r="2.25"/><circle cx="180.7" cy="80.7" r="2.25"/><circle cx="159.1" cy="77.7" r="2.25"/><circle cx="152.9" cy="101.8" r="2.25"/><circle cx="185.0" cy="71.2" r="2.25"/><circle cx="181.4" cy="75.5" r="2.25"/><circle cx="178.5" cy="81.4" r="2.25"/></g><g fill="#FF9800"><circle cx="183.6" cy="74.1" r="2.25"/><circle cx="158.5" cy="80.9" r="2.25"/><circle cx="158.0" cy="82.8" r="2.25"/><circle cx="157.3" cy="98.1" r="2.25"/><circle cx="155.8" cy="99.6" r="2.25"/><circle cx="154.4" cy="97.4" r="2.25"/></g><g fill="#FF4800"><circle cx="155.1" cy="88.0" r="2.25"/><circle cx="156.6" cy="90.1" r="2.25"/><circle cx="154.1" cy="92.3" r="2.25"/><circle cx="158.0" cy="92.3" r="2.25"/><circle cx="155.1" cy="95.2" r="2.25"/><circle cx="155.8" cy="93.0" r="2.25"/><circle cx="152.9" cy="93.8" r="2.25"/></g><g fill="#FF1000"><circle cx="152.9" cy="89.4" r="2.25"/></g></g>
<g clip-path="url(#cIA)"><g fill="#000000"><circle cx="231.8" cy="21.9" r="2.25"/><circle cx="208.4" cy="132.3" r="2.25"/></g></g>
<g clip-path="url(#cIA)"><g fill="#000000"><circle cx="233.4" cy="48.4" r="1.2"/></g></g>
<g clip-path="url(#cIB)"><g fill="#FF1000"><circle cx="537.9" cy="176.4" r="1.45"/><circle cx="537.6" cy="180.2" r="1.45"/><circle cx="539.1" cy="182.7" r="1.45"/><circle cx="540.2" cy="176.7" r="1.45"/><circle cx="538.3" cy="185.3" r="1.45"/><circle cx="538.4" cy="178.7" r="1.45"/><circle cx="538.7" cy="184.2" r="1.45"/><circle cx="541.3" cy="181.4" r="1.45"/><circle cx="542.9" cy="181.5" r="1.45"/><circle cx="540.1" cy="185.0" r="1.45"/><circle cx="537.8" cy="177.9" r="1.45"/><circle cx="540.3" cy="175.7" r="1.45"/><circle cx="540.6" cy="183.3" r="1.45"/><circle cx="538.5" cy="173.8" r="1.45"/><circle cx="541.5" cy="178.3" r="1.45"/><circle cx="537.4" cy="171.9" r="1.45"/><circle cx="538.9" cy="174.8" r="1.45"/><circle cx="536.7" cy="177.0" r="1.45"/><circle cx="539.6" cy="178.5" r="1.45"/><circle cx="541.8" cy="172.6" r="1.45"/><circle cx="544.0" cy="174.8" r="1.45"/><circle cx="541.1" cy="169.0" r="1.45"/><circle cx="538.1" cy="168.2" r="1.45"/><circle cx="542.5" cy="177.0" r="1.45"/><circle cx="540.3" cy="180.7" r="1.45"/></g><g fill="#FF4800"><circle cx="544.0" cy="182.1" r="1.45"/><circle cx="545.6" cy="178.1" r="1.45"/><circle cx="544.9" cy="181.4" r="1.45"/><circle cx="543.6" cy="177.2" r="1.45"/><circle cx="540.3" cy="173.9" r="1.45"/><circle cx="541.2" cy="172.0" r="1.45"/><circle cx="539.6" cy="167.9" r="1.45"/><circle cx="536.6" cy="170.6" r="1.45"/><circle cx="541.6" cy="168.1" r="1.45"/><circle cx="541.1" cy="174.5" r="1.45"/><circle cx="544.3" cy="176.0" r="1.45"/><circle cx="538.8" cy="172.1" r="1.45"/><circle cx="545.5" cy="183.2" r="1.45"/><circle cx="544.2" cy="176.1" r="1.45"/><circle cx="537.3" cy="166.7" r="1.45"/><circle cx="536.7" cy="164.3" r="1.45"/><circle cx="545.0" cy="185.7" r="1.45"/><circle cx="539.6" cy="160.8" r="1.45"/><circle cx="541.1" cy="162.2" r="1.45"/><circle cx="545.4" cy="177.7" r="1.45"/><circle cx="540.3" cy="166.1" r="1.45"/><circle cx="543.2" cy="164.6" r="1.45"/><circle cx="543.2" cy="181.4" r="1.45"/><circle cx="538.9" cy="181.4" r="1.45"/></g><g fill="#A0F000"><circle cx="550.6" cy="169.8" r="1.45"/><circle cx="541.5" cy="153.3" r="1.45"/><circle cx="553.7" cy="180.0" r="1.45"/><circle cx="549.7" cy="161.7" r="1.45"/><circle cx="553.3" cy="174.1" r="1.45"/><circle cx="548.4" cy="153.5" r="1.45"/><circle cx="551.3" cy="164.4" r="1.45"/><circle cx="551.3" cy="167.5" r="1.45"/><circle cx="553.5" cy="171.9" r="1.45"/><circle cx="554.9" cy="181.4" r="1.45"/><circle cx="554.2" cy="184.3" r="1.45"/><circle cx="549.8" cy="155.1" r="1.45"/></g><g fill="#00F0A0"><circle cx="550.8" cy="152.8" r="1.45"/><circle cx="547.2" cy="147.3" r="1.45"/><circle cx="536.4" cy="145.4" r="1.45"/><circle cx="553.5" cy="149.8" r="1.45"/><circle cx="561.5" cy="173.4" r="1.45"/><circle cx="560.0" cy="184.3" r="1.45"/><circle cx="554.2" cy="152.9" r="1.45"/></g><g fill="#FF9800"><circle cx="540.6" cy="163.3" r="1.45"/><circle cx="540.3" cy="162.8" r="1.45"/><circle cx="536.0" cy="161.2" r="1.45"/><circle cx="548.5" cy="179.3" r="1.45"/><circle cx="536.7" cy="161.3" r="1.45"/><circle cx="539.7" cy="162.0" r="1.45"/><circle cx="548.7" cy="181.6" r="1.45"/><circle cx="548.6" cy="175.1" r="1.45"/><circle cx="545.7" cy="167.5" r="1.45"/><circle cx="543.5" cy="168.1" r="1.45"/><circle cx="537.4" cy="153.5" r="1.45"/><circle cx="536.7" cy="156.4" r="1.45"/><circle cx="543.2" cy="159.3" r="1.45"/><circle cx="546.2" cy="158.6" r="1.45"/><circle cx="546.9" cy="163.0" r="1.45"/><circle cx="545.4" cy="160.9" r="1.45"/><circle cx="538.1" cy="158.0" r="1.45"/><circle cx="544.0" cy="158.0" r="1.45"/><circle cx="546.2" cy="169.0" r="1.45"/><circle cx="548.4" cy="177.0" r="1.45"/><circle cx="545.4" cy="179.9" r="1.45"/><circle cx="546.9" cy="184.3" r="1.45"/><circle cx="549.1" cy="179.2" r="1.45"/><circle cx="545.4" cy="185.0" r="1.45"/></g><g fill="#FFE800"><circle cx="539.4" cy="157.7" r="1.45"/><circle cx="548.8" cy="170.4" r="1.45"/><circle cx="549.9" cy="174.4" r="1.45"/><circle cx="539.6" cy="152.0" r="1.45"/><circle cx="543.2" cy="152.7" r="1.45"/><circle cx="544.7" cy="156.4" r="1.45"/><circle cx="539.6" cy="154.4" r="1.45"/><circle cx="546.9" cy="157.3" r="1.45"/><circle cx="551.3" cy="173.4" r="1.45"/><circle cx="554.2" cy="175.5" r="1.45"/><circle cx="552.0" cy="180.7" r="1.45"/><circle cx="548.4" cy="183.6" r="1.45"/></g><g fill="#1890FF"><circle cx="552.7" cy="138.0" r="1.45"/><circle cx="546.9" cy="116.3" r="1.45"/><circle cx="545.4" cy="118.5" r="1.45"/><circle cx="546.2" cy="120.7" r="1.45"/><circle cx="546.9" cy="122.8" r="1.45"/><circle cx="547.6" cy="125.0" r="1.45"/><circle cx="548.4" cy="129.1" r="1.45"/><circle cx="553.5" cy="129.7" r="1.45"/><circle cx="546.9" cy="130.1" r="1.45"/><circle cx="548.4" cy="131.6" r="1.45"/><circle cx="552.0" cy="133.8" r="1.45"/><circle cx="551.3" cy="136.4" r="1.45"/><circle cx="555.9" cy="138.9" r="1.45"/><circle cx="556.4" cy="140.3" r="1.45"/><circle cx="560.8" cy="152.7" r="1.45"/><circle cx="557.4" cy="146.9" r="1.45"/><circle cx="564.7" cy="160.8" r="1.45"/><circle cx="571.7" cy="164.4" r="1.45"/><circle cx="542.5" cy="140.3" r="1.45"/><circle cx="567.3" cy="166.8" r="1.45"/><circle cx="568.8" cy="169.0" r="1.45"/><circle cx="569.5" cy="170.4" r="1.45"/><circle cx="571.7" cy="173.4" r="1.45"/><circle cx="573.2" cy="177.7" r="1.45"/><circle cx="570.3" cy="180.7" r="1.45"/><circle cx="592.9" cy="170.4" r="1.45"/><circle cx="594.3" cy="173.4" r="1.45"/><circle cx="596.5" cy="171.9" r="1.45"/><circle cx="598.0" cy="174.1" r="1.45"/><circle cx="592.9" cy="174.1" r="1.45"/><circle cx="595.8" cy="175.5" r="1.45"/><circle cx="597.3" cy="177.7" r="1.45"/><circle cx="598.7" cy="179.9" r="1.45"/><circle cx="608.9" cy="176.3" r="1.45"/><circle cx="607.5" cy="178.5" r="1.45"/><circle cx="604.6" cy="171.2" r="1.45"/><circle cx="614.1" cy="173.4" r="1.45"/><circle cx="603.1" cy="177.7" r="1.45"/><circle cx="599.5" cy="182.8" r="1.45"/></g><g fill="#30F000"><circle cx="543.2" cy="151.5" r="1.45"/><circle cx="547.4" cy="155.4" r="1.45"/><circle cx="542.8" cy="145.4" r="1.45"/><circle cx="546.2" cy="150.1" r="1.45"/><circle cx="549.8" cy="152.7" r="1.45"/><circle cx="552.0" cy="154.2" r="1.45"/><circle cx="554.2" cy="154.9" r="1.45"/><circle cx="551.3" cy="159.3" r="1.45"/><circle cx="552.7" cy="160.8" r="1.45"/><circle cx="554.2" cy="163.7" r="1.45"/><circle cx="556.4" cy="167.5" r="1.45"/><circle cx="559.3" cy="171.9" r="1.45"/><circle cx="557.8" cy="173.4" r="1.45"/><circle cx="560.0" cy="177.7" r="1.45"/><circle cx="557.1" cy="179.9" r="1.45"/><circle cx="556.4" cy="185.0" r="1.45"/></g><g fill="#8800FF"><circle cx="544.4" cy="64.9" r="1.45"/><circle cx="541.1" cy="69.7" r="1.45"/><circle cx="558.7" cy="69.3" r="1.45"/><circle cx="554.9" cy="74.3" r="1.45"/><circle cx="591.4" cy="62.6" r="1.45"/><circle cx="568.8" cy="78.6" r="1.45"/><circle cx="580.0" cy="90.0" r="1.45"/><circle cx="602.4" cy="92.2" r="1.45"/><circle cx="611.9" cy="95.1" r="1.45"/><circle cx="558.7" cy="87.4" r="1.45"/><circle cx="567.3" cy="94.4" r="1.45"/><circle cx="535.5" cy="90.0" r="1.45"/><circle cx="586.3" cy="114.8" r="1.45"/><circle cx="576.1" cy="117.7" r="1.45"/><circle cx="567.8" cy="118.9" r="1.45"/><circle cx="585.6" cy="125.3" r="1.45"/><circle cx="592.4" cy="130.1" r="1.45"/><circle cx="577.1" cy="133.3" r="1.45"/><circle cx="583.7" cy="133.8" r="1.45"/><circle cx="610.0" cy="134.1" r="1.45"/><circle cx="612.3" cy="135.9" r="1.45"/><circle cx="592.2" cy="141.8" r="1.45"/><circle cx="602.1" cy="148.1" r="1.45"/><circle cx="600.2" cy="152.4" r="1.45"/><circle cx="612.2" cy="154.2" r="1.45"/></g><g fill="#4A10FF"><circle cx="538.9" cy="80.8" r="1.45"/><circle cx="549.1" cy="79.8" r="1.45"/><circle cx="544.4" cy="82.7" r="1.45"/><circle cx="548.8" cy="82.7" r="1.45"/><circle cx="535.9" cy="82.7" r="1.45"/><circle cx="547.6" cy="87.1" r="1.45"/><circle cx="541.8" cy="88.6" r="1.45"/><circle cx="556.8" cy="92.5" r="1.45"/><circle cx="537.4" cy="93.2" r="1.45"/><circle cx="546.9" cy="95.9" r="1.45"/><circle cx="535.9" cy="97.0" r="1.45"/><circle cx="560.3" cy="103.1" r="1.45"/><circle cx="561.5" cy="105.3" r="1.45"/><circle cx="537.4" cy="109.7" r="1.45"/><circle cx="560.0" cy="113.6" r="1.45"/><circle cx="561.9" cy="113.6" r="1.45"/><circle cx="535.9" cy="118.5" r="1.45"/><circle cx="535.9" cy="126.5" r="1.45"/><circle cx="567.6" cy="133.8" r="1.45"/><circle cx="566.3" cy="134.1" r="1.45"/><circle cx="600.2" cy="160.0" r="1.45"/><circle cx="612.2" cy="163.2" r="1.45"/><circle cx="601.2" cy="164.7" r="1.45"/><circle cx="589.2" cy="156.4" r="1.45"/><circle cx="570.7" cy="142.1" r="1.45"/><circle cx="569.8" cy="146.9" r="1.45"/><circle cx="581.2" cy="154.2" r="1.45"/><circle cx="584.1" cy="160.3" r="1.45"/><circle cx="535.9" cy="127.9" r="1.45"/><circle cx="535.9" cy="131.6" r="1.45"/><circle cx="575.4" cy="185.0" r="1.45"/><circle cx="577.6" cy="184.3" r="1.45"/><circle cx="596.1" cy="185.8" r="1.45"/></g><g fill="#2855FF"><circle cx="547.6" cy="98.0" r="1.45"/><circle cx="548.4" cy="102.1" r="1.45"/><circle cx="547.3" cy="107.2" r="1.45"/><circle cx="551.0" cy="108.7" r="1.45"/><circle cx="555.2" cy="109.3" r="1.45"/><circle cx="540.6" cy="111.5" r="1.45"/><circle cx="544.4" cy="111.5" r="1.45"/><circle cx="548.6" cy="113.4" r="1.45"/><circle cx="552.4" cy="114.1" r="1.45"/><circle cx="549.5" cy="118.5" r="1.45"/><circle cx="553.0" cy="119.2" r="1.45"/><circle cx="540.6" cy="124.3" r="1.45"/><circle cx="558.6" cy="127.2" r="1.45"/><circle cx="563.2" cy="128.7" r="1.45"/><circle cx="560.5" cy="132.0" r="1.45"/><circle cx="561.5" cy="134.5" r="1.45"/><circle cx="564.4" cy="137.0" r="1.45"/><circle cx="560.5" cy="143.2" r="1.45"/><circle cx="564.7" cy="149.8" r="1.45"/><circle cx="574.6" cy="152.0" r="1.45"/><circle cx="577.8" cy="152.7" r="1.45"/><circle cx="577.3" cy="155.4" r="1.45"/><circle cx="567.8" cy="156.1" r="1.45"/><circle cx="574.6" cy="157.8" r="1.45"/><circle cx="569.2" cy="159.3" r="1.45"/><circle cx="575.4" cy="160.0" r="1.45"/><circle cx="579.3" cy="159.7" r="1.45"/><circle cx="587.8" cy="164.7" r="1.45"/><circle cx="535.9" cy="139.6" r="1.45"/><circle cx="579.0" cy="168.2" r="1.45"/><circle cx="582.7" cy="167.2" r="1.45"/><circle cx="588.5" cy="169.0" r="1.45"/><circle cx="592.2" cy="167.5" r="1.45"/><circle cx="581.2" cy="173.6" r="1.45"/><circle cx="583.4" cy="173.1" r="1.45"/><circle cx="586.3" cy="178.0" r="1.45"/><circle cx="590.0" cy="181.4" r="1.45"/><circle cx="602.4" cy="168.2" r="1.45"/><circle cx="606.0" cy="169.7" r="1.45"/><circle cx="609.7" cy="166.8" r="1.45"/><circle cx="608.9" cy="171.2" r="1.45"/><circle cx="604.6" cy="182.8" r="1.45"/><circle cx="605.3" cy="185.0" r="1.45"/><circle cx="609.4" cy="181.4" r="1.45"/><circle cx="614.8" cy="167.5" r="1.45"/></g><g fill="#00D8F0"><circle cx="560.0" cy="164.1" r="1.45"/><circle cx="542.5" cy="142.5" r="1.45"/><circle cx="549.8" cy="139.6" r="1.45"/><circle cx="549.8" cy="144.7" r="1.45"/><circle cx="551.3" cy="147.6" r="1.45"/><circle cx="555.7" cy="150.5" r="1.45"/><circle cx="535.9" cy="144.0" r="1.45"/><circle cx="564.4" cy="166.1" r="1.45"/><circle cx="563.7" cy="168.2" r="1.45"/><circle cx="565.1" cy="169.7" r="1.45"/><circle cx="564.4" cy="176.3" r="1.45"/><circle cx="566.6" cy="177.7" r="1.45"/><circle cx="565.1" cy="184.3" r="1.45"/></g></g>
<g stroke="#333" stroke-width="1" fill="none"><path stroke-width="1.1" d="M35.3,215.5L270.2,7.7"/><path d="M382.1,215.5L633.5,103.2"/></g>
<g stroke="#4a4a4a" stroke-width="1" fill="none"><rect x="35.3" y="7.7" width="254.0" height="224.7"/><path d="M35.3,232.4v3.6"/><path d="M86.1,232.4v3.6"/><path d="M136.9,232.4v3.6"/><path d="M187.7,232.4v3.6"/><path d="M238.5,232.4v3.6"/><path d="M289.3,232.4v3.6"/><path d="M60.7,232.4v1.8"/><path d="M111.5,232.4v1.8"/><path d="M162.3,232.4v1.8"/><path d="M213.1,232.4v1.8"/><path d="M263.9,232.4v1.8"/><path d="M35.3,232.4h-3.6"/><path d="M35.3,204.3h-3.6"/><path d="M35.3,176.2h-3.6"/><path d="M35.3,148.1h-3.6"/><path d="M35.3,120.0h-3.6"/><path d="M35.3,92.0h-3.6"/><path d="M35.3,63.9h-3.6"/><path d="M35.3,35.8h-3.6"/><path d="M35.3,7.7h-3.6"/><path d="M35.3,218.4h-1.8"/><path d="M35.3,190.3h-1.8"/><path d="M35.3,162.2h-1.8"/><path d="M35.3,134.1h-1.8"/><path d="M35.3,106.0h-1.8"/><path d="M35.3,77.9h-1.8"/><path d="M35.3,49.8h-1.8"/><path d="M35.3,21.7h-1.8"/></g><g font-family='"Liberation Serif","Times New Roman",serif' font-size="8.6" fill="#111" stroke="#111" stroke-width="0.2"><text x="35.3" y="244.4" text-anchor="middle">0</text><text x="86.1" y="244.4" text-anchor="middle">2</text><text x="136.9" y="244.4" text-anchor="middle">4</text><text x="187.7" y="244.4" text-anchor="middle">6</text><text x="238.5" y="244.4" text-anchor="middle">8</text><text x="289.3" y="244.4" text-anchor="middle">10</text><text x="29.7" y="234.7" text-anchor="end">0</text><text x="29.7" y="206.6" text-anchor="end">50</text><text x="29.7" y="178.5" text-anchor="end">100</text><text x="29.7" y="150.4" text-anchor="end">150</text><text x="29.7" y="122.4" text-anchor="end">200</text><text x="29.7" y="94.3" text-anchor="end">250</text><text x="29.7" y="66.2" text-anchor="end">300</text><text x="29.7" y="38.1" text-anchor="end">350</text><text x="29.7" y="10.0" text-anchor="end">400</text></g>
<g stroke="#7a7a7a" stroke-width="1.35" fill="none"><rect x="382.1" y="7.7" width="251.4" height="224.7"/><path d="M382.1,232.4v3.8"/><path d="M432.4,232.4v3.8"/><path d="M482.7,232.4v3.8"/><path d="M532.9,232.4v3.8"/><path d="M583.2,232.4v3.8"/><path d="M633.5,232.4v3.8"/><path d="M407.2,232.4v1.9"/><path d="M457.5,232.4v1.9"/><path d="M507.8,232.4v1.9"/><path d="M558.1,232.4v1.9"/><path d="M608.4,232.4v1.9"/><path d="M382.1,232.4h-3.8"/><path d="M382.1,204.3h-3.8"/><path d="M382.1,176.2h-3.8"/><path d="M382.1,148.1h-3.8"/><path d="M382.1,120.0h-3.8"/><path d="M382.1,92.0h-3.8"/><path d="M382.1,63.9h-3.8"/><path d="M382.1,35.8h-3.8"/><path d="M382.1,7.7h-3.8"/><path d="M382.1,218.4h-1.9"/><path d="M382.1,190.3h-1.9"/><path d="M382.1,162.2h-1.9"/><path d="M382.1,134.1h-1.9"/><path d="M382.1,106.0h-1.9"/><path d="M382.1,77.9h-1.9"/><path d="M382.1,49.8h-1.9"/><path d="M382.1,21.7h-1.9"/></g><g font-family='"Liberation Serif","Times New Roman",serif' font-size="9.1" fill="#111" stroke="#111" stroke-width="0.2"><text x="382.1" y="245.9" text-anchor="middle" textLength="4.2" lengthAdjust="spacingAndGlyphs">0</text><text x="432.4" y="245.9" text-anchor="middle" textLength="4.2" lengthAdjust="spacingAndGlyphs">2</text><text x="482.7" y="245.9" text-anchor="middle" textLength="4.2" lengthAdjust="spacingAndGlyphs">4</text><text x="532.9" y="245.9" text-anchor="middle" textLength="4.2" lengthAdjust="spacingAndGlyphs">6</text><text x="583.2" y="245.9" text-anchor="middle" textLength="4.2" lengthAdjust="spacingAndGlyphs">8</text><text x="633.5" y="245.9" text-anchor="middle" textLength="8.3" lengthAdjust="spacingAndGlyphs">10</text><text x="376.0" y="234.9" text-anchor="end" textLength="4.2" lengthAdjust="spacingAndGlyphs">0</text><text x="376.0" y="206.8" text-anchor="end" textLength="8.3" lengthAdjust="spacingAndGlyphs">50</text><text x="376.0" y="178.7" text-anchor="end" textLength="12.5" lengthAdjust="spacingAndGlyphs">100</text><text x="376.0" y="150.6" text-anchor="end" textLength="12.5" lengthAdjust="spacingAndGlyphs">150</text><text x="376.0" y="122.5" text-anchor="end" textLength="12.5" lengthAdjust="spacingAndGlyphs">200</text><text x="376.0" y="94.4" text-anchor="end" textLength="12.5" lengthAdjust="spacingAndGlyphs">250</text><text x="376.0" y="66.4" text-anchor="end" textLength="12.5" lengthAdjust="spacingAndGlyphs">300</text><text x="376.0" y="38.3" text-anchor="end" textLength="12.5" lengthAdjust="spacingAndGlyphs">350</text><text x="376.0" y="10.2" text-anchor="end" textLength="12.5" lengthAdjust="spacingAndGlyphs">400</text></g>
<g stroke="#4a4a4a" stroke-width="1" fill="none"><rect x="152.7" y="19.7" width="94.1" height="122.4"/><path d="M152.7,142.1v3.6"/><path d="M176.2,142.1v3.6"/><path d="M199.8,142.1v3.6"/><path d="M223.3,142.1v3.6"/><path d="M246.8,142.1v3.6"/><path d="M164.5,142.1v1.6"/><path d="M188.0,142.1v1.6"/><path d="M211.5,142.1v1.6"/><path d="M235.0,142.1v1.6"/><path d="M152.7,142.1h-3.6"/><path d="M152.7,121.7h-3.6"/><path d="M152.7,101.3h-3.6"/><path d="M152.7,80.9h-3.6"/><path d="M152.7,60.5h-3.6"/><path d="M152.7,40.1h-3.6"/><path d="M152.7,19.7h-3.6"/><path d="M152.7,131.9h-1.6"/><path d="M152.7,111.5h-1.6"/><path d="M152.7,91.1h-1.6"/><path d="M152.7,70.7h-1.6"/><path d="M152.7,50.3h-1.6"/><path d="M152.7,29.9h-1.6"/></g><g font-family='"Liberation Serif","Times New Roman",serif' font-size="8.6" fill="#111" stroke="#111" stroke-width="0.2"><text x="152.7" y="154.5" text-anchor="middle">0.0</text><text x="176.2" y="154.5" text-anchor="middle">0.5</text><text x="199.8" y="154.5" text-anchor="middle">1.0</text><text x="223.3" y="154.5" text-anchor="middle">1.5</text><text x="246.8" y="154.5" text-anchor="middle">2.0</text><text x="146.6" y="144.4" text-anchor="end">0</text><text x="146.6" y="124.0" text-anchor="end">20</text><text x="146.6" y="103.6" text-anchor="end">40</text><text x="146.6" y="83.2" text-anchor="end">60</text><text x="146.6" y="62.8" text-anchor="end">80</text><text x="146.6" y="42.4" text-anchor="end">100</text><text x="146.6" y="22.0" text-anchor="end">120</text></g>
<g stroke="#666" stroke-width="1.15" fill="none"><rect x="535.6" y="58.6" width="79.3" height="127.6"/><path d="M535.6,186.2v3.8"/><path d="M562.0,186.2v3.8"/><path d="M588.5,186.2v3.8"/><path d="M614.9,186.2v3.8"/><path d="M548.8,186.2v1.6"/><path d="M575.2,186.2v1.6"/><path d="M601.7,186.2v1.6"/><path d="M535.6,186.2h-3.8"/><path d="M535.6,160.7h-3.8"/><path d="M535.6,135.2h-3.8"/><path d="M535.6,109.6h-3.8"/><path d="M535.6,84.1h-3.8"/><path d="M535.6,58.6h-3.8"/><path d="M535.6,173.4h-1.6"/><path d="M535.6,147.9h-1.6"/><path d="M535.6,122.4h-1.6"/><path d="M535.6,96.9h-1.6"/><path d="M535.6,71.4h-1.6"/></g><g font-family='"Liberation Serif","Times New Roman",serif' font-size="8.6" fill="#111" stroke="#111" stroke-width="0.2"><text x="535.6" y="201.0" text-anchor="middle">0.0</text><text x="562.0" y="201.0" text-anchor="middle">0.5</text><text x="588.5" y="201.0" text-anchor="middle">1.0</text><text x="614.9" y="201.0" text-anchor="middle">1.5</text><text x="529.3" y="188.5" text-anchor="end">0</text><text x="529.3" y="163.0" text-anchor="end">20</text><text x="529.3" y="137.5" text-anchor="end">40</text><text x="529.3" y="111.9" text-anchor="end">60</text><text x="529.3" y="86.4" text-anchor="end">80</text><text x="529.3" y="60.9" text-anchor="end">100</text></g>
<rect x="289.4" y="7.7" width="14.3" height="224.7" fill="url(#rb)"/>
<path d="M289.4,7.7V232.4" stroke="#333" stroke-width="1"/>
<g font-family='"Liberation Serif","Times New Roman",serif' font-size="8.6" fill="#111" stroke="#111" stroke-width="0.2"><text x="311.2" y="10.9" textLength="21.6" lengthAdjust="spacingAndGlyphs">1.2×10</text><text x="333.2" y="8.1" font-size="8.2"><tspan font-size="4.5" dy="-1">-</tspan><tspan dy="1" dx="0.2">2</tspan></text><text x="311.2" y="33.4" textLength="21.6" lengthAdjust="spacingAndGlyphs">1.1×10</text><text x="333.2" y="30.6" font-size="8.2"><tspan font-size="4.5" dy="-1">-</tspan><tspan dy="1" dx="0.2">2</tspan></text><text x="311.2" y="55.8" textLength="21.6" lengthAdjust="spacingAndGlyphs">9.6×10</text><text x="333.2" y="53.0" font-size="8.2"><tspan font-size="4.5" dy="-1">-</tspan><tspan dy="1" dx="0.2">3</tspan></text><text x="311.2" y="78.3" textLength="21.6" lengthAdjust="spacingAndGlyphs">8.4×10</text><text x="333.2" y="75.5" font-size="8.2"><tspan font-size="4.5" dy="-1">-</tspan><tspan dy="1" dx="0.2">3</tspan></text><text x="311.2" y="100.8" textLength="21.6" lengthAdjust="spacingAndGlyphs">7.3×10</text><text x="333.2" y="98.0" font-size="8.2"><tspan font-size="4.5" dy="-1">-</tspan><tspan dy="1" dx="0.2">3</tspan></text><text x="311.2" y="123.2" textLength="21.6" lengthAdjust="spacingAndGlyphs">6.2×10</text><text x="333.2" y="120.5" font-size="8.2"><tspan font-size="4.5" dy="-1">-</tspan><tspan dy="1" dx="0.2">3</tspan></text><text x="311.2" y="145.7" textLength="21.6" lengthAdjust="spacingAndGlyphs">5.1×10</text><text x="333.2" y="142.9" font-size="8.2"><tspan font-size="4.5" dy="-1">-</tspan><tspan dy="1" dx="0.2">3</tspan></text><text x="311.2" y="168.2" textLength="21.6" lengthAdjust="spacingAndGlyphs">4.0×10</text><text x="333.2" y="165.4" font-size="8.2"><tspan font-size="4.5" dy="-1">-</tspan><tspan dy="1" dx="0.2">3</tspan></text><text x="311.2" y="190.7" textLength="21.6" lengthAdjust="spacingAndGlyphs">2.8×10</text><text x="333.2" y="187.9" font-size="8.2"><tspan font-size="4.5" dy="-1">-</tspan><tspan dy="1" dx="0.2">3</tspan></text><text x="311.2" y="213.1" textLength="21.6" lengthAdjust="spacingAndGlyphs">1.7×10</text><text x="333.2" y="210.3" font-size="8.2"><tspan font-size="4.5" dy="-1">-</tspan><tspan dy="1" dx="0.2">3</tspan></text><text x="311.2" y="235.6" textLength="21.6" lengthAdjust="spacingAndGlyphs">6.0×10</text><text x="333.2" y="232.8" font-size="8.2"><tspan font-size="4.5" dy="-1">-</tspan><tspan dy="1" dx="0.2">4</tspan></text></g>
<rect x="633.6" y="7.7" width="14.2" height="224.7" fill="url(#rb)"/>
<path d="M633.6,7.7V232.4" stroke="#333" stroke-width="1"/>
<path d="M633.6,7.7H647.8000000000001V232.4" stroke="#333" stroke-width="0.7" fill="none"/>
<g font-family='"Liberation Serif","Times New Roman",serif' font-size="9.3" fill="#111" stroke="#111" stroke-width="0.2"><text x="654.9" y="11.2" textLength="21.6" lengthAdjust="spacingAndGlyphs">1.7×10</text><text x="678.2" y="6.9" font-size="7.1"><tspan font-size="4.5" dy="-1">-</tspan><tspan dy="1" dx="0.2">2</tspan></text><text x="654.9" y="33.7" textLength="21.6" lengthAdjust="spacingAndGlyphs">1.5×10</text><text x="678.2" y="29.4" font-size="7.1"><tspan font-size="4.5" dy="-1">-</tspan><tspan dy="1" dx="0.2">2</tspan></text><text x="654.9" y="56.1" textLength="21.6" lengthAdjust="spacingAndGlyphs">1.4×10</text><text x="678.2" y="51.8" font-size="7.1"><tspan font-size="4.5" dy="-1">-</tspan><tspan dy="1" dx="0.2">2</tspan></text><text x="654.9" y="78.6" textLength="21.6" lengthAdjust="spacingAndGlyphs">1.2×10</text><text x="678.2" y="74.3" font-size="7.1"><tspan font-size="4.5" dy="-1">-</tspan><tspan dy="1" dx="0.2">2</tspan></text><text x="654.9" y="101.1" textLength="21.6" lengthAdjust="spacingAndGlyphs">1.0×10</text><text x="678.2" y="96.8" font-size="7.1"><tspan font-size="4.5" dy="-1">-</tspan><tspan dy="1" dx="0.2">2</tspan></text><text x="654.9" y="123.5" textLength="21.6" lengthAdjust="spacingAndGlyphs">8.6×10</text><text x="678.2" y="119.2" font-size="7.1"><tspan font-size="4.5" dy="-1">-</tspan><tspan dy="1" dx="0.2">3</tspan></text><text x="654.9" y="146.0" textLength="21.6" lengthAdjust="spacingAndGlyphs">6.9×10</text><text x="678.2" y="141.7" font-size="7.1"><tspan font-size="4.5" dy="-1">-</tspan><tspan dy="1" dx="0.2">3</tspan></text><text x="654.9" y="168.5" textLength="21.6" lengthAdjust="spacingAndGlyphs">5.3×10</text><text x="678.2" y="164.2" font-size="7.1"><tspan font-size="4.5" dy="-1">-</tspan><tspan dy="1" dx="0.2">3</tspan></text><text x="654.9" y="191.0" textLength="21.6" lengthAdjust="spacingAndGlyphs">3.6×10</text><text x="678.2" y="186.7" font-size="7.1"><tspan font-size="4.5" dy="-1">-</tspan><tspan dy="1" dx="0.2">3</tspan></text><text x="654.9" y="213.4" textLength="21.6" lengthAdjust="spacingAndGlyphs">2.0×10</text><text x="678.2" y="209.1" font-size="7.1"><tspan font-size="4.5" dy="-1">-</tspan><tspan dy="1" dx="0.2">3</tspan></text><text x="654.9" y="235.9" textLength="21.6" lengthAdjust="spacingAndGlyphs">3.0×10</text><text x="678.2" y="231.6" font-size="7.1"><tspan font-size="4.5" dy="-1">-</tspan><tspan dy="1" dx="0.2">4</tspan></text></g>
<g font-family='"Liberation Serif","Times New Roman",serif' fill="#111" stroke="#111" stroke-width="0.2"><text x="141.6" y="258.8" font-size="11.4" textLength="47.0" lengthAdjust="spacingAndGlyphs">RA/ms·v<tspan font-size="7.1" dy="-4.3"> -1</tspan></text><text x="490.9" y="258.8" font-size="11.4" textLength="42.5" lengthAdjust="spacingAndGlyphs">RA/ms·v<tspan font-size="7.1" dy="-4.3"> -1</tspan></text><text x="180.1" y="166.2" font-size="11" textLength="45.3" lengthAdjust="spacingAndGlyphs">RA/ms·v<tspan font-size="6.8" dy="-4.2"> -1</tspan></text><text x="557.8" y="212.3" font-size="10.6" textLength="43.7" lengthAdjust="spacingAndGlyphs">RA/ms·v<tspan font-size="6.6" dy="-4.0"> -1</tspan></text><text transform="translate(9.75,134.2) rotate(-90)" font-size="11.2" textLength="36.1" lengthAdjust="spacingAndGlyphs">AF/kHz</text><text transform="translate(357.9,136.3) rotate(-90)" font-size="11.3" textLength="38.3" lengthAdjust="spacingAndGlyphs">AF/kHz</text><text transform="translate(132.8,98.4) rotate(-90)" font-size="11.2" textLength="36.1" lengthAdjust="spacingAndGlyphs">AF/kHz</text><text transform="translate(517.2,138.5) rotate(-90)" font-size="11.8" textLength="38.0" lengthAdjust="spacingAndGlyphs">AF/kHz</text><text x="136.8" y="277.6" font-size="12" textLength="41.6" lengthAdjust="spacingAndGlyphs">(a) NSCB</text><text x="483.6" y="277.6" font-size="12" textLength="41.6" lengthAdjust="spacingAndGlyphs">(b) SNBD</text></g>
</svg></body></html>
